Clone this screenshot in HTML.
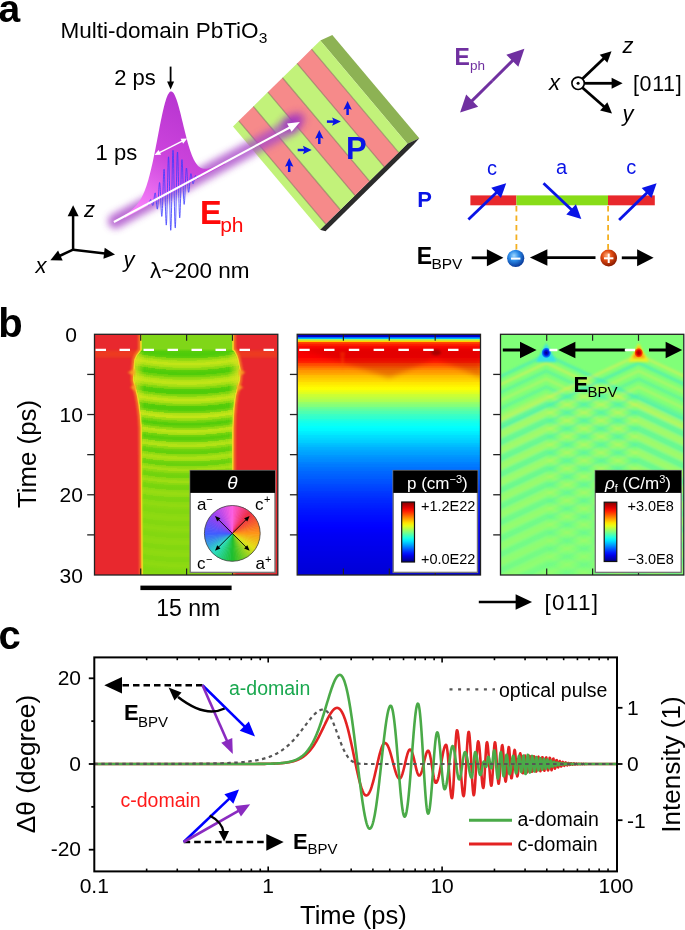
<!DOCTYPE html>
<html><head><meta charset="utf-8"><style>
html,body{margin:0;padding:0;background:#fff;width:685px;height:930px;overflow:hidden}
svg{display:block;will-change:transform}
text{font-family:"Liberation Sans",sans-serif}
</style></head><body>
<svg width="685" height="930" viewBox="0 0 685 930">

<text x="-1.6" y="21.6" font-size="39" fill="#000" font-weight="bold">a</text>
<text x="60.6" y="37.8" font-size="22.5" fill="#000">Multi-domain PbTiO</text>
<text x="258.8" y="42.8" font-size="15.5" fill="#000">3</text>
<text x="114.2" y="85" font-size="22" fill="#000">2 ps</text>
<text x="95.6" y="160" font-size="22" fill="#000">1 ps</text>
<line x1="170.6" y1="66.6" x2="170.6" y2="82.6" stroke="#000" stroke-width="1.8"/>
<polygon points="170.6,89.6 167.1,81.6 174.1,81.6" fill="#000"/>
<defs>
<filter id="glow" x="-30%" y="-60%" width="160%" height="220%"><feGaussianBlur stdDeviation="3.6"/></filter>
<filter id="glow2" x="-60%" y="-60%" width="220%" height="220%"><feGaussianBlur stdDeviation="4.5"/></filter>
<linearGradient id="sailg" x1="140" y1="205" x2="200" y2="100" gradientUnits="userSpaceOnUse"><stop offset="0" stop-color="#f47cf8"/><stop offset="0.45" stop-color="#cc44dc"/><stop offset="1" stop-color="#b533cf"/></linearGradient>
<linearGradient id="crysh" x1="0" y1="0" x2="1" y2="0"><stop offset="0" stop-color="#000" stop-opacity="0.18"/><stop offset="0.12" stop-color="#000" stop-opacity="0"/><stop offset="0.88" stop-color="#000" stop-opacity="0"/><stop offset="1" stop-color="#000" stop-opacity="0.12"/></linearGradient>
</defs>
<polygon points="320.3,40.5 332.3,35 419.3,138.3 407.3,143.8" fill="#8db254"/>
<polygon points="320,229.8 407.3,143.8 419.3,138.3 413.4,144.65 325.5,231.3" fill="#2b2b2b"/>
<polygon points="233,126.5 238.76,120.82 325.76,224.12 320,229.8" fill="#c2f27a"/>
<polygon points="238.76,120.82 253.34,106.46 340.34,209.76 325.76,224.12" fill="#f68a8a"/>
<polygon points="253.34,106.46 267.92,92.1 354.92,195.4 340.34,209.76" fill="#c2f27a"/>
<polygon points="267.92,92.1 282.5,77.74 369.5,181.04 354.92,195.4" fill="#f68a8a"/>
<polygon points="282.5,77.74 297.08,63.38 384.08,166.68 369.5,181.04" fill="#c2f27a"/>
<polygon points="297.08,63.38 311.57,49.1 398.57,152.4 384.08,166.68" fill="#f68a8a"/>
<polygon points="311.57,49.1 320.3,40.5 407.3,143.8 398.57,152.4" fill="#c2f27a"/>
<line x1="238.76" y1="120.82" x2="325.76" y2="224.12" stroke="#7a6a50" stroke-opacity="0.55" stroke-width="1.2"/>
<line x1="253.34" y1="106.46" x2="340.34" y2="209.76" stroke="#7a6a50" stroke-opacity="0.55" stroke-width="1.2"/>
<line x1="267.92" y1="92.1" x2="354.92" y2="195.4" stroke="#7a6a50" stroke-opacity="0.55" stroke-width="1.2"/>
<line x1="282.5" y1="77.74" x2="369.5" y2="181.04" stroke="#7a6a50" stroke-opacity="0.55" stroke-width="1.2"/>
<line x1="297.08" y1="63.38" x2="384.08" y2="166.68" stroke="#7a6a50" stroke-opacity="0.55" stroke-width="1.2"/>
<line x1="311.57" y1="49.1" x2="398.57" y2="152.4" stroke="#7a6a50" stroke-opacity="0.55" stroke-width="1.2"/>
<line x1="289.2" y1="172" x2="289.2" y2="164" stroke="#0a14e6" stroke-width="2.5"/>
<polygon points="289.2,158 285,166.8 289.2,165.2 293.4,166.8" fill="#0a14e6"/>
<line x1="297.7" y1="150" x2="305.7" y2="150" stroke="#0a14e6" stroke-width="2.5"/>
<polygon points="311.7,150 302.9,145.8 304.5,150 302.9,154.2" fill="#0a14e6"/>
<line x1="319.3" y1="144" x2="319.3" y2="136" stroke="#0a14e6" stroke-width="2.5"/>
<polygon points="319.3,130 315.1,138.8 319.3,137.2 323.5,138.8" fill="#0a14e6"/>
<line x1="326.9" y1="121.6" x2="334.9" y2="121.6" stroke="#0a14e6" stroke-width="2.5"/>
<polygon points="340.9,121.6 332.1,117.4 333.7,121.6 332.1,125.8" fill="#0a14e6"/>
<line x1="347.6" y1="115" x2="347.6" y2="107" stroke="#0a14e6" stroke-width="2.5"/>
<polygon points="347.6,101 343.4,109.8 347.6,108.2 351.8,109.8" fill="#0a14e6"/>
<text x="346" y="158.8" font-size="31" fill="#0a14e6" font-weight="bold">P</text>
<line x1="115.4" y1="221.19" x2="291.9" y2="126.3" stroke="#a846c8" stroke-width="15" stroke-linecap="round" opacity="0.78" filter="url(#glow)"/>
<ellipse cx="293" cy="122" rx="12" ry="7" transform="rotate(-28 293 122)" fill="#a030c0" opacity="0.95" filter="url(#glow2)"/>
<path d="M125,218.03 L125,214.81 L125.5,214.48 L126,214.15 L126.5,213.81 L127,213.46 L127.5,213.11 L128,212.76 L128.5,212.4 L129,212.03 L129.5,211.66 L130,211.27 L130.5,210.88 L131,210.48 L131.5,210.07 L132,209.65 L132.5,209.21 L133,208.77 L133.5,208.3 L134,207.83 L134.5,207.33 L135,206.82 L135.5,206.29 L136,205.73 L136.5,205.15 L137,204.55 L137.5,203.92 L138,203.26 L138.5,202.58 L139,201.85 L139.5,201.1 L140,200.31 L140.5,199.48 L141,198.6 L141.5,197.69 L142,196.73 L142.5,195.72 L143,194.66 L143.5,193.55 L144,192.38 L144.5,191.16 L145,189.88 L145.5,188.54 L146,187.14 L146.5,185.67 L147,184.14 L147.5,182.54 L148,180.88 L148.5,179.15 L149,177.36 L149.5,175.49 L150,173.56 L150.5,171.56 L151,169.5 L151.5,167.37 L152,165.18 L152.5,162.94 L153,160.63 L153.5,158.27 L154,155.87 L154.5,153.41 L155,150.92 L155.5,148.39 L156,145.83 L156.5,143.25 L157,140.65 L157.5,138.04 L158,135.42 L158.5,132.81 L159,130.2 L159.5,127.62 L160,125.07 L160.5,122.55 L161,120.07 L161.5,117.64 L162,115.28 L162.5,112.99 L163,110.77 L163.5,108.64 L164,106.61 L164.5,104.67 L165,102.85 L165.5,101.14 L166,99.55 L166.5,98.09 L167,96.77 L167.5,95.58 L168,94.54 L168.5,93.64 L169,92.9 L169.5,92.31 L170,91.87 L170.5,91.58 L171,91.45 L171.5,91.48 L172,91.65 L172.5,91.98 L173,92.46 L173.5,93.08 L174,93.84 L174.5,94.73 L175,95.75 L175.5,96.9 L176,98.17 L176.5,99.54 L177,101.02 L177.5,102.6 L178,104.26 L178.5,106 L179,107.81 L179.5,109.69 L180,111.62 L180.5,113.59 L181,115.6 L181.5,117.64 L182,119.7 L182.5,121.78 L183,123.86 L183.5,125.93 L184,128 L184.5,130.05 L185,132.08 L185.5,134.07 L186,136.04 L186.5,137.96 L187,139.84 L187.5,141.67 L188,143.45 L188.5,145.17 L189,146.83 L189.5,148.43 L190,149.97 L190.5,151.44 L191,152.85 L191.5,154.19 L192,155.46 L192.5,156.67 L193,157.81 L193.5,158.88 L194,159.89 L194.5,160.83 L195,161.7 L195.5,162.52 L196,163.27 L196.5,163.97 L197,164.61 L197.5,165.19 L198,165.73 L198.5,166.21 L199,166.64 L199.5,167.03 L200,167.37 L200.5,167.67 L201,167.93 L201.5,168.16 L202,168.35 L202.5,168.5 L203,168.63 L203.5,168.73 L204,168.8 L204.5,168.84 L205,168.86 L205.5,168.86 L206,168.84 L206.5,168.8 L207,168.75 L207.5,168.68 L208,168.59 L208.5,168.49 L209,168.37 L209.5,168.25 L210,168.11 L210.5,167.97 L211,167.82 L211.5,167.66 L212,167.49 L212.5,167.31 L213,167.13 L213.5,166.94 L214,166.75 L214.5,166.55 L215,166.35 L215.5,166.14 L216,165.94 L216.5,165.72 L217,165.51 L217.5,165.29 L218,165.07 L218.5,164.84 L219,164.62 L219.5,164.39 L220,164.16 L220.5,163.93 L221,163.69 L221.5,163.46 L222,163.22 L222.5,162.98 L223,162.74 L223.5,162.5 L224,162.26 L224.5,162.02 L225,161.77 L225,164.27 Z" fill="url(#sailg)"/>
<polyline points="140,208.02 140.12,207.94 140.24,207.86 140.36,207.78 140.48,207.69 140.6,207.6 140.72,207.52 140.84,207.43 140.96,207.34 141.08,207.25 141.2,207.17 141.32,207.09 141.44,207.01 141.56,206.94 141.68,206.88 141.8,206.81 141.92,206.76 142.04,206.71 142.16,206.67 142.28,206.63 142.4,206.6 142.52,206.58 142.64,206.55 142.76,206.54 142.88,206.52 143,206.51 143.12,206.49 143.24,206.47 143.36,206.45 143.48,206.43 143.6,206.39 143.72,206.35 143.84,206.3 143.96,206.23 144.08,206.16 144.2,206.07 144.32,205.97 144.44,205.85 144.56,205.73 144.68,205.59 144.8,205.44 144.92,205.29 145.04,205.13 145.16,204.96 145.28,204.8 145.4,204.64 145.52,204.48 145.64,204.33 145.76,204.2 145.88,204.08 146,203.98 146.12,203.89 146.24,203.84 146.36,203.8 146.48,203.79 146.6,203.81 146.72,203.85 146.84,203.91 146.96,204 147.08,204.1 147.2,204.21 147.32,204.33 147.44,204.46 147.56,204.58 147.68,204.7 147.8,204.81 147.92,204.89 148.04,204.95 148.16,204.98 148.28,204.97 148.4,204.92 148.52,204.83 148.64,204.69 148.76,204.51 148.88,204.28 149,204.01 149.12,203.7 149.24,203.35 149.36,202.98 149.48,202.58 149.6,202.17 149.72,201.76 149.84,201.36 149.96,200.98 150.08,200.62 150.2,200.31 150.32,200.04 150.44,199.84 150.56,199.7 150.68,199.63 150.8,199.64 150.92,199.73 151.04,199.9 151.16,200.15 151.28,200.47 151.4,200.86 151.52,201.3 151.64,201.78 151.76,202.29 151.88,202.82 152,203.34 152.12,203.85 152.24,204.31 152.36,204.71 152.48,205.05 152.6,205.29 152.72,205.42 152.84,205.44 152.96,205.33 153.08,205.1 153.2,204.73 153.32,204.23 153.44,203.61 153.56,202.87 153.68,202.03 153.8,201.11 153.92,200.14 154.04,199.12 154.16,198.1 154.28,197.09 154.4,196.13 154.52,195.25 154.64,194.47 154.76,193.82 154.88,193.33 155,193.01 155.12,192.88 155.24,192.95 155.36,193.23 155.48,193.72 155.6,194.4 155.72,195.27 155.84,196.31 155.96,197.5 156.08,198.79 156.2,200.16 156.32,201.57 156.44,202.98 156.56,204.33 156.68,205.6 156.8,206.73 156.92,207.68 157.04,208.42 157.16,208.91 157.28,209.13 157.4,209.06 157.52,208.68 157.64,208 157.76,207.01 157.88,205.73 158,204.19 158.12,202.42 158.24,200.46 158.36,198.36 158.48,196.17 158.6,193.95 158.72,191.77 158.84,189.69 158.96,187.77 159.08,186.07 159.2,184.64 159.32,183.54 159.44,182.82 159.56,182.49 159.68,182.59 159.8,183.12 159.92,184.09 160.04,185.47 160.16,187.24 160.28,189.36 160.4,191.78 160.52,194.43 160.64,197.24 160.76,200.13 160.88,203.03 161,205.83 161.12,208.47 161.24,210.85 161.36,212.89 161.48,214.52 161.6,215.69 161.72,216.33 161.84,216.42 161.96,215.93 162.08,214.86 162.2,213.22 162.32,211.04 162.44,208.37 162.56,205.27 162.68,201.81 162.8,198.09 162.92,194.2 163.04,190.25 163.16,186.35 163.28,182.61 163.4,179.15 163.52,176.07 163.64,173.47 163.76,171.42 163.88,170.01 164,169.29 164.12,169.29 164.24,170.02 164.36,171.49 164.48,173.66 164.6,176.49 164.72,179.9 164.84,183.81 164.96,188.12 165.08,192.7 165.2,197.43 165.32,202.17 165.44,206.78 165.56,211.13 165.68,215.09 165.8,218.52 165.92,221.33 166.04,223.41 166.16,224.69 166.28,225.12 166.4,224.66 166.52,223.32 166.64,221.12 166.76,218.09 166.88,214.32 167,209.9 167.12,204.95 167.24,199.58 167.36,193.96 167.48,188.24 167.6,182.58 167.72,177.13 167.84,172.07 167.96,167.53 168.08,163.65 168.2,160.56 168.32,158.34 168.44,157.07 168.56,156.8 168.68,157.54 168.8,159.28 168.92,161.98 169.04,165.57 169.16,169.97 169.28,175.03 169.4,180.64 169.52,186.63 169.64,192.82 169.76,199.05 169.88,205.13 170,210.89 170.12,216.15 170.24,220.76 170.36,224.59 170.48,227.51 170.6,229.44 170.72,230.31 170.84,230.08 170.96,228.76 171.08,226.38 171.2,222.99 171.32,218.69 171.44,213.59 171.56,207.84 171.68,201.59 171.8,195.02 171.92,188.31 172.04,181.65 172.16,175.24 172.28,169.24 172.4,163.84 172.52,159.18 172.64,155.39 172.76,152.59 172.88,150.85 173,150.23 173.12,150.72 173.24,152.33 173.36,155 173.48,158.66 173.6,163.19 173.72,168.47 173.84,174.33 173.96,180.62 174.08,187.15 174.2,193.73 174.32,200.17 174.44,206.29 174.56,211.92 174.68,216.88 174.8,221.05 174.92,224.31 175.04,226.57 175.16,227.76 175.28,227.85 175.4,226.86 175.52,224.8 175.64,221.75 175.76,217.8 175.88,213.05 176,207.66 176.12,201.77 176.24,195.56 176.36,189.21 176.48,182.88 176.6,176.77 176.72,171.03 176.84,165.84 176.96,161.32 177.08,157.59 177.2,154.76 177.32,152.89 177.44,152.02 177.56,152.17 177.68,153.31 177.8,155.4 177.92,158.36 178.04,162.11 178.16,166.52 178.28,171.46 178.4,176.77 178.52,182.31 178.64,187.9 178.76,193.39 178.88,198.62 179,203.45 179.12,207.74 179.24,211.38 179.36,214.28 179.48,216.36 179.6,217.57 179.72,217.89 179.84,217.34 179.96,215.93 180.08,213.72 180.2,210.78 180.32,207.22 180.44,203.13 180.56,198.65 180.68,193.91 180.8,189.04 180.92,184.18 181.04,179.47 181.16,175.04 181.28,171 181.4,167.46 181.52,164.5 181.64,162.2 181.76,160.6 181.88,159.74 182,159.61 182.12,160.21 182.24,161.49 182.36,163.4 182.48,165.88 182.6,168.83 182.72,172.16 182.84,175.77 182.96,179.54 183.08,183.36 183.2,187.12 183.32,190.71 183.44,194.04 183.56,197.01 183.68,199.56 183.8,201.61 183.92,203.12 184.04,204.06 184.16,204.42 184.28,204.2 184.4,203.43 184.52,202.14 184.64,200.37 184.76,198.2 184.88,195.69 185,192.93 185.12,189.99 185.24,186.97 185.36,183.95 185.48,181.01 185.6,178.23 185.72,175.68 185.84,173.44 185.96,171.54 186.08,170.02 186.2,168.93 186.32,168.27 186.44,168.04 186.56,168.24 186.68,168.83 186.8,169.8 186.92,171.1 187.04,172.67 187.16,174.46 187.28,176.42 187.4,178.47 187.52,180.56 187.64,182.62 187.76,184.59 187.88,186.42 188,188.06 188.12,189.47 188.24,190.62 188.36,191.48 188.48,192.04 188.6,192.29 188.72,192.23 188.84,191.88 188.96,191.26 189.08,190.39 189.2,189.31 189.32,188.05 189.44,186.66 189.56,185.17 189.68,183.64 189.8,182.1 189.92,180.6 190.04,179.17 190.16,177.86 190.28,176.69 190.4,175.69 190.52,174.88 190.64,174.26 190.76,173.85 190.88,173.65 191,173.65 191.12,173.84 191.24,174.21 191.36,174.73 191.48,175.38 191.6,176.13 191.72,176.96 191.84,177.84 191.96,178.73 192.08,179.62 192.2,180.47 192.32,181.26 192.44,181.97 192.56,182.57 192.68,183.07 192.8,183.44 192.92,183.68 193.04,183.79 193.16,183.76 193.28,183.61 193.4,183.35 193.52,182.98 193.64,182.52 193.76,181.99 193.88,181.39 194,180.76 194.12,180.11 194.24,179.45 194.36,178.81 194.48,178.2 194.6,177.63 194.72,177.12 194.84,176.67 194.96,176.29 195.08,175.99 195.2,175.77 195.32,175.63 195.44,175.57 195.56,175.58 195.68,175.65 195.8,175.79 195.92,175.98 196.04,176.2 196.16,176.46 196.28,176.73 196.4,177.01 196.52,177.29 196.64,177.56 196.76,177.8 196.88,178.02 197,178.2 197.12,178.34 197.24,178.44 197.36,178.5 197.48,178.5 197.6,178.47 197.72,178.39 197.84,178.27 197.96,178.11 198.08,177.92 198.2,177.71 198.32,177.48 198.44,177.23 198.56,176.98 198.68,176.72 198.8,176.47 198.92,176.22 199.04,176 199.16,175.78 199.28,175.59 199.4,175.42 199.52,175.28 199.64,175.16 199.76,175.06 199.88,174.99 200,174.94 200.12,174.92 200.24,174.91 200.36,174.91 200.48,174.93 200.6,174.96 200.72,174.99 200.84,175.03 200.96,175.06 201.08,175.09 201.2,175.12 201.32,175.14 201.44,175.15 201.56,175.14 201.68,175.13 201.8,175.1 201.92,175.06 202.04,175.01 202.16,174.94 202.28,174.87 202.4,174.78 202.52,174.68 202.64,174.58 202.76,174.47 202.88,174.36 203,174.25 203.12,174.13 203.24,174.02 203.36,173.91 203.48,173.8 203.6,173.7 203.72,173.6 203.84,173.51 203.96,173.42 204.08,173.34 204.2,173.27 204.32,173.2 204.44,173.14 204.56,173.08 204.68,173.03 204.8,172.98 204.92,172.93 205.04,172.89 205.16,172.85 205.28,172.81 205.4,172.76 205.52,172.72 205.64,172.68 205.76,172.64 205.88,172.59" fill="none" stroke="#3c3cff" stroke-width="0.9" opacity="0.9"/>
<line x1="113.9" y1="222" x2="290.21" y2="127.21" stroke="#ffffff" stroke-width="2.1"/>
<polygon points="299.9,122 291.58,131.87 287.08,123.5" fill="#ffffff"/>
<line x1="170.9" y1="146.8" x2="182.74" y2="140.77" stroke="#ffffff" stroke-width="1.4"/>
<polygon points="187.2,138.5 183.1,143.67 180.61,138.77" fill="#ffffff"/>
<line x1="170.9" y1="146.8" x2="158.96" y2="152.84" stroke="#ffffff" stroke-width="1.4"/>
<polygon points="154.5,155.1 158.61,149.94 161.1,154.84" fill="#ffffff"/>
<text x="200" y="224.4" font-size="32.5" fill="#ff0a0a" font-weight="bold">E</text>
<text x="220.2" y="231.6" font-size="21" fill="#ff0a0a">ph</text>
<line x1="73.1" y1="250" x2="73.1" y2="215.2" stroke="#000" stroke-width="2.5"/>
<polygon points="73.1,205.2 78.6,216.2 67.6,216.2" fill="#000"/>
<line x1="73.1" y1="249.7" x2="59.48" y2="256" stroke="#000" stroke-width="2.5"/>
<polygon points="50.4,260.2 58.07,250.59 62.69,260.57" fill="#000"/>
<line x1="73.1" y1="249.7" x2="105.07" y2="253.44" stroke="#000" stroke-width="2.5"/>
<polygon points="115,254.6 103.44,258.79 104.71,247.86" fill="#000"/>
<text x="84" y="216.8" font-size="22" fill="#000" font-style="italic">z</text>
<text x="35.5" y="273" font-size="22" fill="#000" font-style="italic">x</text>
<text x="123.5" y="267.4" font-size="22" fill="#000" font-style="italic">y</text>
<text x="150" y="277.7" font-size="22.5" fill="#000">λ~200 nm</text>
<text x="454.5" y="64.8" font-size="23" fill="#7030a0" font-weight="bold">E</text>
<text x="470" y="69.9" font-size="13.5" fill="#7030a0">ph</text>
<line x1="492.3" y1="80.7" x2="513.05" y2="60.08" stroke="#7030a0" stroke-width="3"/>
<polygon points="524.4,48.8 518.33,66.81 506.35,54.75" fill="#7030a0"/>
<line x1="492.3" y1="80.7" x2="471.47" y2="101.34" stroke="#7030a0" stroke-width="3"/>
<polygon points="460.1,112.6 466.19,94.6 478.16,106.67" fill="#7030a0"/>
<circle cx="578.1" cy="83.3" r="6.2" fill="#fff" stroke="#000" stroke-width="1.6"/>
<circle cx="578.1" cy="83.3" r="1.5" fill="#000"/>
<line x1="582.5" y1="78.8" x2="604.26" y2="58.09" stroke="#000" stroke-width="2.8"/>
<polygon points="611.5,51.2 607.32,62.77 599.74,54.8" fill="#000"/>
<line x1="584.3" y1="83.3" x2="612.6" y2="83.3" stroke="#000" stroke-width="2.8"/>
<polygon points="622.6,83.3 611.6,88.8 611.6,77.8" fill="#000"/>
<line x1="582.5" y1="87.8" x2="604.47" y2="107.02" stroke="#000" stroke-width="2.8"/>
<polygon points="612,113.6 600.1,110.5 607.34,102.22" fill="#000"/>
<text x="622.5" y="52.8" font-size="22" fill="#000" font-style="italic">z</text>
<text x="549" y="89.6" font-size="22" fill="#000" font-style="italic">x</text>
<text x="622.5" y="121.2" font-size="22" fill="#000" font-style="italic">y</text>
<text x="633" y="90.8" font-size="21.5" fill="#000" letter-spacing="0.6">[011]</text>
<text x="417.2" y="207.2" font-size="22" fill="#0a14e6" font-weight="bold">P</text>
<rect x="470.4" y="195.4" width="46" height="9.9" fill="#e8282c"/>
<rect x="516.4" y="195.4" width="91.6" height="9.9" fill="#88dc18"/>
<rect x="608" y="195.4" width="46.8" height="9.9" fill="#e8282c"/>
<text x="487" y="174.8" font-size="20" fill="#0a14e6">c</text>
<text x="556" y="174.2" font-size="20" fill="#0a14e6">a</text>
<text x="626.2" y="174.2" font-size="20" fill="#0a14e6">c</text>
<line x1="468.4" y1="219.4" x2="496.81" y2="192.19" stroke="#0a14e6" stroke-width="2.8"/>
<polygon points="506.2,183.2 500.93,197.94 491.25,187.83" fill="#0a14e6"/>
<line x1="543.5" y1="183.3" x2="571.85" y2="210.07" stroke="#0a14e6" stroke-width="2.8"/>
<polygon points="581.3,219 566.32,214.48 575.93,204.3" fill="#0a14e6"/>
<line x1="619.1" y1="220" x2="647.31" y2="192.39" stroke="#0a14e6" stroke-width="2.8"/>
<polygon points="656.6,183.3 651.49,198.1 641.7,188.09" fill="#0a14e6"/>
<line x1="516.4" y1="206" x2="516.4" y2="250" stroke="#f4b020" stroke-width="1.8" stroke-dasharray="5.5 4"/>
<line x1="608.1" y1="206" x2="608.1" y2="250" stroke="#f4b020" stroke-width="1.8" stroke-dasharray="5.5 4"/>
<text x="416.8" y="263.8" font-size="23" fill="#000" font-weight="bold">E</text>
<text x="431.4" y="269.2" font-size="15.5" fill="#000">BPV</text>
<line x1="471.7" y1="257.8" x2="487.9" y2="257.8" stroke="#000" stroke-width="2.8"/>
<polygon points="503.4,257.8 486.9,266.3 486.9,249.3" fill="#000"/>
<line x1="595.5" y1="257.6" x2="546.4" y2="257.6" stroke="#000" stroke-width="2.8"/>
<polygon points="529.9,257.6 547.4,249.35 547.4,265.85" fill="#000"/>
<line x1="621.8" y1="257.8" x2="638.1" y2="257.8" stroke="#000" stroke-width="2.8"/>
<polygon points="653.6,257.8 637.1,266.3 637.1,249.3" fill="#000"/>
<defs><radialGradient id="bball" cx="0.4" cy="0.35" r="0.65"><stop offset="0" stop-color="#9fd8ff"/><stop offset="0.45" stop-color="#2a8ae8"/><stop offset="1" stop-color="#0a3a9a"/></radialGradient>
<radialGradient id="rball" cx="0.4" cy="0.35" r="0.65"><stop offset="0" stop-color="#ffb080"/><stop offset="0.45" stop-color="#e04a10"/><stop offset="1" stop-color="#8a1a00"/></radialGradient></defs>
<circle cx="515.7" cy="258.3" r="8.6" fill="url(#bball)"/>
<line x1="511" y1="258.6" x2="520.4" y2="258.6" stroke="#fff" stroke-width="2"/>
<circle cx="608.7" cy="258" r="8.4" fill="url(#rball)"/>
<line x1="604" y1="258.3" x2="613.4" y2="258.3" stroke="#fff" stroke-width="2"/>
<line x1="608.7" y1="253.6" x2="608.7" y2="263" stroke="#fff" stroke-width="2"/>
<text x="-1.8" y="336.5" font-size="40" fill="#000" font-weight="bold">b</text>
<defs>
<filter id="bl1" x="-20%" y="-20%" width="140%" height="140%"><feGaussianBlur stdDeviation="1.2"/></filter>
<filter id="bl2" x="-50%" y="-50%" width="200%" height="200%"><feGaussianBlur stdDeviation="2.5"/></filter>
<filter id="bl05"><feGaussianBlur stdDeviation="0.7"/></filter><filter id="bl09"><feGaussianBlur stdDeviation="1.0"/></filter>
<linearGradient id="gstr" x1="0" y1="334.3" x2="0" y2="574.3" gradientUnits="userSpaceOnUse"><stop offset="0" stop-color="#80d618"/><stop offset="0" stop-color="#80d618"/><stop offset="0.01" stop-color="#80d618"/><stop offset="0.01" stop-color="#80d618"/><stop offset="0.02" stop-color="#80d618"/><stop offset="0.02" stop-color="#80d618"/><stop offset="0.03" stop-color="#80d618"/><stop offset="0.03" stop-color="#80d618"/><stop offset="0.03" stop-color="#80d618"/><stop offset="0.04" stop-color="#80d618"/><stop offset="0.04" stop-color="#80d618"/><stop offset="0.05" stop-color="#80d618"/><stop offset="0.05" stop-color="#80d618"/><stop offset="0.05" stop-color="#80d618"/><stop offset="0.06" stop-color="#80d618"/><stop offset="0.06" stop-color="#80d618"/><stop offset="0.07" stop-color="#5dcf0b"/><stop offset="0.07" stop-color="#5ace0b"/><stop offset="0.07" stop-color="#55cd0a"/><stop offset="0.08" stop-color="#51cc0a"/><stop offset="0.08" stop-color="#4ecc0a"/><stop offset="0.09" stop-color="#4ecc0a"/><stop offset="0.09" stop-color="#53cd0a"/><stop offset="0.1" stop-color="#5fcf0c"/><stop offset="0.1" stop-color="#6fd30d"/><stop offset="0.1" stop-color="#82d710"/><stop offset="0.11" stop-color="#96db12"/><stop offset="0.11" stop-color="#a8e014"/><stop offset="0.12" stop-color="#b7e316"/><stop offset="0.12" stop-color="#c0e517"/><stop offset="0.12" stop-color="#c3e517"/><stop offset="0.13" stop-color="#c0e517"/><stop offset="0.13" stop-color="#b6e216"/><stop offset="0.14" stop-color="#a7df14"/><stop offset="0.14" stop-color="#94db12"/><stop offset="0.15" stop-color="#80d70f"/><stop offset="0.15" stop-color="#6dd20d"/><stop offset="0.15" stop-color="#5dcf0b"/><stop offset="0.16" stop-color="#52cd0a"/><stop offset="0.16" stop-color="#4ecc0a"/><stop offset="0.17" stop-color="#50cc0a"/><stop offset="0.17" stop-color="#58ce0b"/><stop offset="0.17" stop-color="#66d10c"/><stop offset="0.18" stop-color="#78d50f"/><stop offset="0.18" stop-color="#8cd911"/><stop offset="0.19" stop-color="#9fde13"/><stop offset="0.19" stop-color="#b0e115"/><stop offset="0.2" stop-color="#bce417"/><stop offset="0.2" stop-color="#c3e517"/><stop offset="0.2" stop-color="#c2e517"/><stop offset="0.21" stop-color="#bce417"/><stop offset="0.21" stop-color="#afe115"/><stop offset="0.22" stop-color="#9edd13"/><stop offset="0.22" stop-color="#8ad911"/><stop offset="0.23" stop-color="#76d40e"/><stop offset="0.23" stop-color="#65d10c"/><stop offset="0.23" stop-color="#57ce0b"/><stop offset="0.24" stop-color="#4fcc0a"/><stop offset="0.24" stop-color="#4ecc0a"/><stop offset="0.25" stop-color="#54cd0a"/><stop offset="0.25" stop-color="#62d00c"/><stop offset="0.25" stop-color="#75d40e"/><stop offset="0.26" stop-color="#8bd911"/><stop offset="0.26" stop-color="#a0de13"/><stop offset="0.27" stop-color="#b2e215"/><stop offset="0.27" stop-color="#bfe417"/><stop offset="0.28" stop-color="#c3e517"/><stop offset="0.28" stop-color="#c0e517"/><stop offset="0.28" stop-color="#b5e216"/><stop offset="0.29" stop-color="#a4df14"/><stop offset="0.29" stop-color="#8fda11"/><stop offset="0.3" stop-color="#79d50f"/><stop offset="0.3" stop-color="#65d10c"/><stop offset="0.3" stop-color="#57cd0b"/><stop offset="0.31" stop-color="#4fcc0a"/><stop offset="0.31" stop-color="#4fcc0a"/><stop offset="0.32" stop-color="#58ce0b"/><stop offset="0.32" stop-color="#68d10d"/><stop offset="0.33" stop-color="#7dd60f"/><stop offset="0.33" stop-color="#95db12"/><stop offset="0.33" stop-color="#aae014"/><stop offset="0.34" stop-color="#bae316"/><stop offset="0.34" stop-color="#c3e517"/><stop offset="0.35" stop-color="#c2e517"/><stop offset="0.35" stop-color="#b9e316"/><stop offset="0.35" stop-color="#a8df14"/><stop offset="0.36" stop-color="#92db12"/><stop offset="0.36" stop-color="#7bd60f"/><stop offset="0.37" stop-color="#67d10d"/><stop offset="0.37" stop-color="#58ce0b"/><stop offset="0.38" stop-color="#51cc0a"/><stop offset="0.38" stop-color="#53cd0a"/><stop offset="0.38" stop-color="#5ecf0b"/><stop offset="0.39" stop-color="#72d30e"/><stop offset="0.39" stop-color="#89d911"/><stop offset="0.4" stop-color="#a0de13"/><stop offset="0.4" stop-color="#b2e215"/><stop offset="0.4" stop-color="#bbe417"/><stop offset="0.41" stop-color="#bbe417"/><stop offset="0.41" stop-color="#b2e215"/><stop offset="0.42" stop-color="#a0de13"/><stop offset="0.42" stop-color="#8bd911"/><stop offset="0.42" stop-color="#76d40e"/><stop offset="0.43" stop-color="#65d10c"/><stop offset="0.43" stop-color="#5bce0b"/><stop offset="0.44" stop-color="#59ce0b"/><stop offset="0.44" stop-color="#62d00c"/><stop offset="0.45" stop-color="#73d40e"/><stop offset="0.45" stop-color="#87d810"/><stop offset="0.45" stop-color="#9cdd13"/><stop offset="0.46" stop-color="#ace015"/><stop offset="0.46" stop-color="#b4e216"/><stop offset="0.47" stop-color="#b2e215"/><stop offset="0.47" stop-color="#a8df14"/><stop offset="0.47" stop-color="#97dc12"/><stop offset="0.48" stop-color="#84d710"/><stop offset="0.48" stop-color="#72d30e"/><stop offset="0.49" stop-color="#65d10c"/><stop offset="0.49" stop-color="#61d00c"/><stop offset="0.5" stop-color="#66d10c"/><stop offset="0.5" stop-color="#74d40e"/><stop offset="0.5" stop-color="#87d810"/><stop offset="0.51" stop-color="#9bdd13"/><stop offset="0.51" stop-color="#a8e014"/><stop offset="0.52" stop-color="#ade115"/><stop offset="0.52" stop-color="#a7df14"/><stop offset="0.53" stop-color="#9adc13"/><stop offset="0.53" stop-color="#88d810"/><stop offset="0.53" stop-color="#76d50e"/><stop offset="0.54" stop-color="#6bd20d"/><stop offset="0.54" stop-color="#68d10d"/><stop offset="0.55" stop-color="#6dd30d"/><stop offset="0.55" stop-color="#7ad50f"/><stop offset="0.55" stop-color="#8ad911"/><stop offset="0.56" stop-color="#99dc12"/><stop offset="0.56" stop-color="#a3de14"/><stop offset="0.57" stop-color="#a6df14"/><stop offset="0.57" stop-color="#a1de13"/><stop offset="0.57" stop-color="#95db12"/><stop offset="0.58" stop-color="#87d810"/><stop offset="0.58" stop-color="#7ad50f"/><stop offset="0.59" stop-color="#71d30e"/><stop offset="0.59" stop-color="#6fd30d"/><stop offset="0.6" stop-color="#74d40e"/><stop offset="0.6" stop-color="#7ed60f"/><stop offset="0.6" stop-color="#8ad911"/><stop offset="0.61" stop-color="#96db12"/><stop offset="0.61" stop-color="#9ddd13"/><stop offset="0.62" stop-color="#9fdd13"/><stop offset="0.62" stop-color="#9adc13"/><stop offset="0.62" stop-color="#91da11"/><stop offset="0.63" stop-color="#86d810"/><stop offset="0.63" stop-color="#7cd60f"/><stop offset="0.64" stop-color="#77d50e"/><stop offset="0.64" stop-color="#76d40e"/><stop offset="0.65" stop-color="#7ad50f"/><stop offset="0.65" stop-color="#82d710"/><stop offset="0.65" stop-color="#8bd911"/><stop offset="0.66" stop-color="#93db12"/><stop offset="0.66" stop-color="#97dc12"/><stop offset="0.67" stop-color="#97dc12"/><stop offset="0.67" stop-color="#94db12"/><stop offset="0.68" stop-color="#8eda11"/><stop offset="0.68" stop-color="#86d810"/><stop offset="0.68" stop-color="#80d710"/><stop offset="0.69" stop-color="#7dd60f"/><stop offset="0.69" stop-color="#7dd60f"/><stop offset="0.7" stop-color="#80d70f"/><stop offset="0.7" stop-color="#85d810"/><stop offset="0.7" stop-color="#8ad911"/><stop offset="0.71" stop-color="#8eda11"/><stop offset="0.71" stop-color="#91da11"/><stop offset="0.72" stop-color="#90da11"/><stop offset="0.72" stop-color="#8eda11"/><stop offset="0.72" stop-color="#8bd911"/><stop offset="0.73" stop-color="#88d810"/><stop offset="0.73" stop-color="#85d810"/><stop offset="0.74" stop-color="#83d710"/><stop offset="0.74" stop-color="#83d710"/><stop offset="0.75" stop-color="#84d710"/><stop offset="0.75" stop-color="#86d810"/><stop offset="0.75" stop-color="#89d911"/><stop offset="0.76" stop-color="#8cd911"/><stop offset="0.76" stop-color="#8eda11"/><stop offset="0.77" stop-color="#8eda11"/><stop offset="0.77" stop-color="#8dda11"/><stop offset="0.78" stop-color="#8bd911"/><stop offset="0.78" stop-color="#88d810"/><stop offset="0.78" stop-color="#85d810"/><stop offset="0.79" stop-color="#83d710"/><stop offset="0.79" stop-color="#83d710"/><stop offset="0.8" stop-color="#84d710"/><stop offset="0.8" stop-color="#86d810"/><stop offset="0.8" stop-color="#89d911"/><stop offset="0.81" stop-color="#8cd911"/><stop offset="0.81" stop-color="#8eda11"/><stop offset="0.82" stop-color="#8eda11"/><stop offset="0.82" stop-color="#8dda11"/><stop offset="0.82" stop-color="#8bd911"/><stop offset="0.83" stop-color="#88d810"/><stop offset="0.83" stop-color="#85d810"/><stop offset="0.84" stop-color="#83d710"/><stop offset="0.84" stop-color="#83d710"/><stop offset="0.85" stop-color="#84d710"/><stop offset="0.85" stop-color="#86d810"/><stop offset="0.85" stop-color="#89d911"/><stop offset="0.86" stop-color="#8cd911"/><stop offset="0.86" stop-color="#8eda11"/><stop offset="0.87" stop-color="#8eda11"/><stop offset="0.87" stop-color="#8dda11"/><stop offset="0.88" stop-color="#8bd911"/><stop offset="0.88" stop-color="#88d810"/><stop offset="0.88" stop-color="#85d810"/><stop offset="0.89" stop-color="#83d710"/><stop offset="0.89" stop-color="#83d710"/><stop offset="0.9" stop-color="#84d710"/><stop offset="0.9" stop-color="#86d810"/><stop offset="0.9" stop-color="#89d911"/><stop offset="0.91" stop-color="#8cd911"/><stop offset="0.91" stop-color="#8eda11"/><stop offset="0.92" stop-color="#8eda11"/><stop offset="0.92" stop-color="#8dda11"/><stop offset="0.93" stop-color="#8bd911"/><stop offset="0.93" stop-color="#88d810"/><stop offset="0.93" stop-color="#85d810"/><stop offset="0.94" stop-color="#83d710"/><stop offset="0.94" stop-color="#83d710"/><stop offset="0.95" stop-color="#84d710"/><stop offset="0.95" stop-color="#86d810"/><stop offset="0.95" stop-color="#89d911"/><stop offset="0.96" stop-color="#8cd911"/><stop offset="0.96" stop-color="#8eda11"/><stop offset="0.97" stop-color="#8eda11"/><stop offset="0.97" stop-color="#8dda11"/><stop offset="0.97" stop-color="#8bd911"/><stop offset="0.98" stop-color="#88d810"/><stop offset="0.98" stop-color="#85d810"/><stop offset="0.99" stop-color="#83d710"/><stop offset="0.99" stop-color="#83d710"/><stop offset="1" stop-color="#84d710"/><stop offset="1" stop-color="#86d810"/></linearGradient>
<linearGradient id="gjet" x1="0" y1="334.3" x2="0" y2="575" gradientUnits="userSpaceOnUse"><stop offset="0" stop-color="#0000b3"/><stop offset="0" stop-color="#0000bd"/><stop offset="0.01" stop-color="#0000c8"/><stop offset="0.01" stop-color="#0037ff"/><stop offset="0.02" stop-color="#00e3ff"/><stop offset="0.02" stop-color="#93ff6c"/><stop offset="0.03" stop-color="#ffd200"/><stop offset="0.03" stop-color="#ff6d00"/><stop offset="0.03" stop-color="#ff5100"/><stop offset="0.04" stop-color="#ff3600"/><stop offset="0.04" stop-color="#ff2100"/><stop offset="0.05" stop-color="#ff1a00"/><stop offset="0.05" stop-color="#ff1200"/><stop offset="0.05" stop-color="#ff0a00"/><stop offset="0.06" stop-color="#ff0200"/><stop offset="0.06" stop-color="#fa0000"/><stop offset="0.07" stop-color="#f50000"/><stop offset="0.07" stop-color="#f60000"/><stop offset="0.07" stop-color="#f70000"/><stop offset="0.08" stop-color="#f70000"/><stop offset="0.08" stop-color="#f80000"/><stop offset="0.09" stop-color="#f90000"/><stop offset="0.09" stop-color="#f90000"/><stop offset="0.1" stop-color="#fd0000"/><stop offset="0.1" stop-color="#ff0500"/><stop offset="0.1" stop-color="#ff0c00"/><stop offset="0.11" stop-color="#ff1300"/><stop offset="0.11" stop-color="#ff1a00"/><stop offset="0.12" stop-color="#ff2400"/><stop offset="0.12" stop-color="#ff3300"/><stop offset="0.12" stop-color="#ff4200"/><stop offset="0.13" stop-color="#ff5100"/><stop offset="0.13" stop-color="#ff6000"/><stop offset="0.14" stop-color="#ff6f00"/><stop offset="0.14" stop-color="#ff7e00"/><stop offset="0.15" stop-color="#ff8600"/><stop offset="0.15" stop-color="#ff8e00"/><stop offset="0.15" stop-color="#ff9500"/><stop offset="0.16" stop-color="#ff9d00"/><stop offset="0.16" stop-color="#ffa400"/><stop offset="0.17" stop-color="#ffac00"/><stop offset="0.17" stop-color="#ffb400"/><stop offset="0.17" stop-color="#ffbb00"/><stop offset="0.18" stop-color="#ffc300"/><stop offset="0.18" stop-color="#ffc900"/><stop offset="0.19" stop-color="#ffcf00"/><stop offset="0.19" stop-color="#ffd500"/><stop offset="0.2" stop-color="#ffda00"/><stop offset="0.2" stop-color="#ffe000"/><stop offset="0.2" stop-color="#ffe500"/><stop offset="0.21" stop-color="#ffeb00"/><stop offset="0.21" stop-color="#fff100"/><stop offset="0.22" stop-color="#fff600"/><stop offset="0.22" stop-color="#fffc00"/><stop offset="0.23" stop-color="#fcff03"/><stop offset="0.23" stop-color="#f5ff0a"/><stop offset="0.23" stop-color="#efff10"/><stop offset="0.24" stop-color="#e8ff17"/><stop offset="0.24" stop-color="#e1ff1e"/><stop offset="0.25" stop-color="#dbff24"/><stop offset="0.25" stop-color="#d4ff2b"/><stop offset="0.25" stop-color="#cdff32"/><stop offset="0.26" stop-color="#c7ff38"/><stop offset="0.26" stop-color="#c0ff3f"/><stop offset="0.27" stop-color="#b9ff46"/><stop offset="0.27" stop-color="#b3ff4c"/><stop offset="0.28" stop-color="#aaff55"/><stop offset="0.28" stop-color="#a2ff5d"/><stop offset="0.28" stop-color="#9aff65"/><stop offset="0.29" stop-color="#92ff6d"/><stop offset="0.29" stop-color="#8aff75"/><stop offset="0.3" stop-color="#81ff7e"/><stop offset="0.3" stop-color="#79ff86"/><stop offset="0.3" stop-color="#71ff8e"/><stop offset="0.31" stop-color="#69ff96"/><stop offset="0.31" stop-color="#61ff9e"/><stop offset="0.32" stop-color="#59ffa6"/><stop offset="0.32" stop-color="#50ffaf"/><stop offset="0.33" stop-color="#4affb5"/><stop offset="0.33" stop-color="#44ffbb"/><stop offset="0.33" stop-color="#3effc1"/><stop offset="0.34" stop-color="#39ffc6"/><stop offset="0.34" stop-color="#33ffcc"/><stop offset="0.35" stop-color="#2effd1"/><stop offset="0.35" stop-color="#28ffd7"/><stop offset="0.35" stop-color="#23ffdc"/><stop offset="0.36" stop-color="#1dffe2"/><stop offset="0.36" stop-color="#17ffe8"/><stop offset="0.37" stop-color="#12ffed"/><stop offset="0.37" stop-color="#0dfff2"/><stop offset="0.38" stop-color="#0afff5"/><stop offset="0.38" stop-color="#07fff8"/><stop offset="0.38" stop-color="#04fffb"/><stop offset="0.39" stop-color="#00ffff"/><stop offset="0.39" stop-color="#00fcff"/><stop offset="0.4" stop-color="#00f9ff"/><stop offset="0.4" stop-color="#00f6ff"/><stop offset="0.4" stop-color="#00f2ff"/><stop offset="0.41" stop-color="#00efff"/><stop offset="0.41" stop-color="#00ecff"/><stop offset="0.42" stop-color="#00e8ff"/><stop offset="0.42" stop-color="#00e4ff"/><stop offset="0.42" stop-color="#00e0ff"/><stop offset="0.43" stop-color="#00ddff"/><stop offset="0.43" stop-color="#00d9ff"/><stop offset="0.44" stop-color="#00d5ff"/><stop offset="0.44" stop-color="#00d1ff"/><stop offset="0.45" stop-color="#00cdff"/><stop offset="0.45" stop-color="#00c9ff"/><stop offset="0.45" stop-color="#00c5ff"/><stop offset="0.46" stop-color="#00c1ff"/><stop offset="0.46" stop-color="#00bdff"/><stop offset="0.47" stop-color="#00b9ff"/><stop offset="0.47" stop-color="#00b5ff"/><stop offset="0.47" stop-color="#00b2ff"/><stop offset="0.48" stop-color="#00aeff"/><stop offset="0.48" stop-color="#00aaff"/><stop offset="0.49" stop-color="#00a6ff"/><stop offset="0.49" stop-color="#00a3ff"/><stop offset="0.5" stop-color="#00a0ff"/><stop offset="0.5" stop-color="#009cff"/><stop offset="0.5" stop-color="#0099ff"/><stop offset="0.51" stop-color="#0096ff"/><stop offset="0.51" stop-color="#0092ff"/><stop offset="0.52" stop-color="#008fff"/><stop offset="0.52" stop-color="#008cff"/><stop offset="0.53" stop-color="#0089ff"/><stop offset="0.53" stop-color="#0085ff"/><stop offset="0.53" stop-color="#0082ff"/><stop offset="0.54" stop-color="#007fff"/><stop offset="0.54" stop-color="#007bff"/><stop offset="0.55" stop-color="#0079ff"/><stop offset="0.55" stop-color="#0076ff"/><stop offset="0.55" stop-color="#0074ff"/><stop offset="0.56" stop-color="#0071ff"/><stop offset="0.56" stop-color="#006fff"/><stop offset="0.57" stop-color="#006cff"/><stop offset="0.57" stop-color="#006aff"/><stop offset="0.57" stop-color="#0067ff"/><stop offset="0.58" stop-color="#0065ff"/><stop offset="0.58" stop-color="#0062ff"/><stop offset="0.59" stop-color="#0060ff"/><stop offset="0.59" stop-color="#005eff"/><stop offset="0.6" stop-color="#005bff"/><stop offset="0.6" stop-color="#0059ff"/><stop offset="0.6" stop-color="#0056ff"/><stop offset="0.61" stop-color="#0054ff"/><stop offset="0.61" stop-color="#0052ff"/><stop offset="0.62" stop-color="#004fff"/><stop offset="0.62" stop-color="#004dff"/><stop offset="0.62" stop-color="#004aff"/><stop offset="0.63" stop-color="#0048ff"/><stop offset="0.63" stop-color="#0046ff"/><stop offset="0.64" stop-color="#0043ff"/><stop offset="0.64" stop-color="#0041ff"/><stop offset="0.65" stop-color="#003fff"/><stop offset="0.65" stop-color="#003cff"/><stop offset="0.65" stop-color="#003aff"/><stop offset="0.66" stop-color="#0038ff"/><stop offset="0.66" stop-color="#0035ff"/><stop offset="0.67" stop-color="#0033ff"/><stop offset="0.67" stop-color="#0031ff"/><stop offset="0.68" stop-color="#002eff"/><stop offset="0.68" stop-color="#002dff"/><stop offset="0.68" stop-color="#002bff"/><stop offset="0.69" stop-color="#0029ff"/><stop offset="0.69" stop-color="#0027ff"/><stop offset="0.7" stop-color="#0026ff"/><stop offset="0.7" stop-color="#0024ff"/><stop offset="0.7" stop-color="#0022ff"/><stop offset="0.71" stop-color="#0021ff"/><stop offset="0.71" stop-color="#001fff"/><stop offset="0.72" stop-color="#001dff"/><stop offset="0.72" stop-color="#001cff"/><stop offset="0.72" stop-color="#001aff"/><stop offset="0.73" stop-color="#0018ff"/><stop offset="0.73" stop-color="#0016ff"/><stop offset="0.74" stop-color="#0015ff"/><stop offset="0.74" stop-color="#0013ff"/><stop offset="0.75" stop-color="#0011ff"/><stop offset="0.75" stop-color="#0010ff"/><stop offset="0.75" stop-color="#000eff"/><stop offset="0.76" stop-color="#000dff"/><stop offset="0.76" stop-color="#000cff"/><stop offset="0.77" stop-color="#000aff"/><stop offset="0.77" stop-color="#0009ff"/><stop offset="0.78" stop-color="#0008ff"/><stop offset="0.78" stop-color="#0007ff"/><stop offset="0.78" stop-color="#0005ff"/><stop offset="0.79" stop-color="#0004ff"/><stop offset="0.79" stop-color="#0003ff"/><stop offset="0.8" stop-color="#0001ff"/><stop offset="0.8" stop-color="#0000ff"/><stop offset="0.8" stop-color="#0000fe"/><stop offset="0.81" stop-color="#0000fd"/><stop offset="0.81" stop-color="#0000fb"/><stop offset="0.82" stop-color="#0000fa"/><stop offset="0.82" stop-color="#0000f9"/><stop offset="0.82" stop-color="#0000f8"/><stop offset="0.83" stop-color="#0000f6"/><stop offset="0.83" stop-color="#0000f5"/><stop offset="0.84" stop-color="#0000f4"/><stop offset="0.84" stop-color="#0000f3"/><stop offset="0.85" stop-color="#0000f2"/><stop offset="0.85" stop-color="#0000f2"/><stop offset="0.85" stop-color="#0000f1"/><stop offset="0.86" stop-color="#0000f0"/><stop offset="0.86" stop-color="#0000ef"/><stop offset="0.87" stop-color="#0000ee"/><stop offset="0.87" stop-color="#0000ee"/><stop offset="0.88" stop-color="#0000ed"/><stop offset="0.88" stop-color="#0000ec"/><stop offset="0.88" stop-color="#0000eb"/><stop offset="0.89" stop-color="#0000ea"/><stop offset="0.89" stop-color="#0000ea"/><stop offset="0.9" stop-color="#0000e9"/><stop offset="0.9" stop-color="#0000e8"/><stop offset="0.9" stop-color="#0000e7"/><stop offset="0.91" stop-color="#0000e6"/><stop offset="0.91" stop-color="#0000e6"/><stop offset="0.92" stop-color="#0000e5"/><stop offset="0.92" stop-color="#0000e4"/><stop offset="0.93" stop-color="#0000e3"/><stop offset="0.93" stop-color="#0000e3"/><stop offset="0.93" stop-color="#0000e2"/><stop offset="0.94" stop-color="#0000e1"/><stop offset="0.94" stop-color="#0000e0"/><stop offset="0.95" stop-color="#0000e0"/><stop offset="0.95" stop-color="#0000df"/><stop offset="0.95" stop-color="#0000de"/><stop offset="0.96" stop-color="#0000de"/><stop offset="0.96" stop-color="#0000dd"/><stop offset="0.97" stop-color="#0000dc"/><stop offset="0.97" stop-color="#0000db"/><stop offset="0.97" stop-color="#0000db"/><stop offset="0.98" stop-color="#0000da"/><stop offset="0.98" stop-color="#0000d9"/><stop offset="0.99" stop-color="#0000d8"/><stop offset="0.99" stop-color="#0000d8"/><stop offset="1" stop-color="#0000d7"/><stop offset="1" stop-color="#0000d6"/></linearGradient>
<linearGradient id="gcb" x1="0" y1="0" x2="0" y2="1"><stop offset="0" stop-color="#800000"/><stop offset="0.05" stop-color="#b30000"/><stop offset="0.1" stop-color="#e50000"/><stop offset="0.15" stop-color="#ff1a00"/><stop offset="0.2" stop-color="#ff4c00"/><stop offset="0.25" stop-color="#ff8000"/><stop offset="0.3" stop-color="#ffb300"/><stop offset="0.35" stop-color="#ffe500"/><stop offset="0.4" stop-color="#e5ff1a"/><stop offset="0.45" stop-color="#b3ff4c"/><stop offset="0.5" stop-color="#80ff80"/><stop offset="0.55" stop-color="#4cffb3"/><stop offset="0.6" stop-color="#1affe5"/><stop offset="0.65" stop-color="#00e5ff"/><stop offset="0.7" stop-color="#00b3ff"/><stop offset="0.75" stop-color="#0080ff"/><stop offset="0.8" stop-color="#004cff"/><stop offset="0.85" stop-color="#001aff"/><stop offset="0.9" stop-color="#0000e5"/><stop offset="0.95" stop-color="#0000b3"/><stop offset="1" stop-color="#000080"/></linearGradient>
<clipPath id="cp1"><rect x="94.5" y="334.3" width="183.3" height="240.7"/></clipPath>
<clipPath id="cp2"><rect x="297.2" y="334.3" width="183.3" height="240.7"/></clipPath>
<clipPath id="cp3"><rect x="500.5" y="334.3" width="183.3" height="240.7"/></clipPath>
<radialGradient id="wheelg" cx="0.5" cy="0.5" r="0.5"><stop offset="0" stop-color="#fff" stop-opacity="0.35"/><stop offset="1" stop-color="#fff" stop-opacity="0"/></radialGradient>
</defs>
<g clip-path="url(#cp1)">
<rect x="94.5" y="334.3" width="183.3" height="240.7" fill="#e8282e"/>
<rect x="94.5" y="350.5" width="183.3" height="7" fill="#f04a18" opacity="0.55" filter="url(#bl1)"/>
<path d="M141.8,334.3 L141.8,350 L140.5,352 L137.5,356 L135.8,360 L134.9,370 L134.5,380 L136.2,387 L138.3,395 L140,405 L141.3,415 L142.2,428 L143,575 L231.5,575 L232,428 L232.5,415 L233.3,405 L234.6,395 L236.8,387 L238.5,380 L239.2,370 L237.2,360 L236,356 L234,352 L232.2,350 L232.2,334.3 Z" fill="none" stroke="#f47a20" stroke-width="7" filter="url(#bl1)"/>
<path d="M141.8,334.3 L141.8,350 L140.5,352 L137.5,356 L135.8,360 L134.9,370 L134.5,380 L136.2,387 L138.3,395 L140,405 L141.3,415 L142.2,428 L143,575 L231.5,575 L232,428 L232.5,415 L233.3,405 L234.6,395 L236.8,387 L238.5,380 L239.2,370 L237.2,360 L236,356 L234,352 L232.2,350 L232.2,334.3 Z" fill="none" stroke="#f0d828" stroke-width="3.2" filter="url(#bl05)"/>
<path d="M141.8,334.3 L141.8,350 L140.5,352 L137.5,356 L135.8,360 L134.9,370 L134.5,380 L136.2,387 L138.3,395 L140,405 L141.3,415 L142.2,428 L143,575 L231.5,575 L232,428 L232.5,415 L233.3,405 L234.6,395 L236.8,387 L238.5,380 L239.2,370 L237.2,360 L236,356 L234,352 L232.2,350 L232.2,334.3 Z" fill="url(#gstr)"/>
<defs><clipPath id="gclip2"><path d="M141.8,334.3 L141.8,350 L140.5,352 L137.5,356 L135.8,360 L134.9,370 L134.5,380 L136.2,387 L138.3,395 L140,405 L141.3,415 L142.2,428 L143,575 L231.5,575 L232,428 L232.5,415 L233.3,405 L234.6,395 L236.8,387 L238.5,380 L239.2,370 L237.2,360 L236,356 L234,352 L232.2,350 L232.2,334.3 Z"/></clipPath></defs>
<g clip-path="url(#gclip2)"><g>
<clipPath id="gclip3"><rect x="130" y="351" width="115" height="230"/></clipPath>
<g clip-path="url(#gclip3)">
<rect x="133" y="342.3" width="2.4" height="240.7" fill="url(#gstr)" transform="translate(0,-5.07)"/>
<rect x="135.2" y="342.3" width="2.4" height="240.7" fill="url(#gstr)" transform="translate(0,-4.65)"/>
<rect x="137.4" y="342.3" width="2.4" height="240.7" fill="url(#gstr)" transform="translate(0,-4.26)"/>
<rect x="139.6" y="342.3" width="2.4" height="240.7" fill="url(#gstr)" transform="translate(0,-3.88)"/>
<rect x="141.8" y="342.3" width="2.4" height="240.7" fill="url(#gstr)" transform="translate(0,-3.52)"/>
<rect x="144" y="342.3" width="2.4" height="240.7" fill="url(#gstr)" transform="translate(0,-3.18)"/>
<rect x="146.2" y="342.3" width="2.4" height="240.7" fill="url(#gstr)" transform="translate(0,-2.85)"/>
<rect x="148.4" y="342.3" width="2.4" height="240.7" fill="url(#gstr)" transform="translate(0,-2.55)"/>
<rect x="150.6" y="342.3" width="2.4" height="240.7" fill="url(#gstr)" transform="translate(0,-2.26)"/>
<rect x="152.8" y="342.3" width="2.4" height="240.7" fill="url(#gstr)" transform="translate(0,-1.98)"/>
<rect x="155" y="342.3" width="2.4" height="240.7" fill="url(#gstr)" transform="translate(0,-1.73)"/>
<rect x="157.2" y="342.3" width="2.4" height="240.7" fill="url(#gstr)" transform="translate(0,-1.49)"/>
<rect x="159.4" y="342.3" width="2.4" height="240.7" fill="url(#gstr)" transform="translate(0,-1.27)"/>
<rect x="161.6" y="342.3" width="2.4" height="240.7" fill="url(#gstr)" transform="translate(0,-1.07)"/>
<rect x="163.8" y="342.3" width="2.4" height="240.7" fill="url(#gstr)" transform="translate(0,-0.88)"/>
<rect x="166" y="342.3" width="2.4" height="240.7" fill="url(#gstr)" transform="translate(0,-0.72)"/>
<rect x="168.2" y="342.3" width="2.4" height="240.7" fill="url(#gstr)" transform="translate(0,-0.57)"/>
<rect x="170.4" y="342.3" width="2.4" height="240.7" fill="url(#gstr)" transform="translate(0,-0.44)"/>
<rect x="172.6" y="342.3" width="2.4" height="240.7" fill="url(#gstr)" transform="translate(0,-0.32)"/>
<rect x="174.8" y="342.3" width="2.4" height="240.7" fill="url(#gstr)" transform="translate(0,-0.22)"/>
<rect x="177" y="342.3" width="2.4" height="240.7" fill="url(#gstr)" transform="translate(0,-0.14)"/>
<rect x="179.2" y="342.3" width="2.4" height="240.7" fill="url(#gstr)" transform="translate(0,-0.08)"/>
<rect x="181.4" y="342.3" width="2.4" height="240.7" fill="url(#gstr)" transform="translate(0,-0.04)"/>
<rect x="183.6" y="342.3" width="2.4" height="240.7" fill="url(#gstr)" transform="translate(0,-0.01)"/>
<rect x="185.8" y="342.3" width="2.4" height="240.7" fill="url(#gstr)" transform="translate(0,-0)"/>
<rect x="188" y="342.3" width="2.4" height="240.7" fill="url(#gstr)" transform="translate(0,-0.01)"/>
<rect x="190.2" y="342.3" width="2.4" height="240.7" fill="url(#gstr)" transform="translate(0,-0.03)"/>
<rect x="192.4" y="342.3" width="2.4" height="240.7" fill="url(#gstr)" transform="translate(0,-0.08)"/>
<rect x="194.6" y="342.3" width="2.4" height="240.7" fill="url(#gstr)" transform="translate(0,-0.14)"/>
<rect x="196.8" y="342.3" width="2.4" height="240.7" fill="url(#gstr)" transform="translate(0,-0.22)"/>
<rect x="199" y="342.3" width="2.4" height="240.7" fill="url(#gstr)" transform="translate(0,-0.31)"/>
<rect x="201.2" y="342.3" width="2.4" height="240.7" fill="url(#gstr)" transform="translate(0,-0.42)"/>
<rect x="203.4" y="342.3" width="2.4" height="240.7" fill="url(#gstr)" transform="translate(0,-0.55)"/>
<rect x="205.6" y="342.3" width="2.4" height="240.7" fill="url(#gstr)" transform="translate(0,-0.7)"/>
<rect x="207.8" y="342.3" width="2.4" height="240.7" fill="url(#gstr)" transform="translate(0,-0.87)"/>
<rect x="210" y="342.3" width="2.4" height="240.7" fill="url(#gstr)" transform="translate(0,-1.05)"/>
<rect x="212.2" y="342.3" width="2.4" height="240.7" fill="url(#gstr)" transform="translate(0,-1.25)"/>
<rect x="214.4" y="342.3" width="2.4" height="240.7" fill="url(#gstr)" transform="translate(0,-1.47)"/>
<rect x="216.6" y="342.3" width="2.4" height="240.7" fill="url(#gstr)" transform="translate(0,-1.71)"/>
<rect x="218.8" y="342.3" width="2.4" height="240.7" fill="url(#gstr)" transform="translate(0,-1.96)"/>
<rect x="221" y="342.3" width="2.4" height="240.7" fill="url(#gstr)" transform="translate(0,-2.23)"/>
<rect x="223.2" y="342.3" width="2.4" height="240.7" fill="url(#gstr)" transform="translate(0,-2.52)"/>
<rect x="225.4" y="342.3" width="2.4" height="240.7" fill="url(#gstr)" transform="translate(0,-2.83)"/>
<rect x="227.6" y="342.3" width="2.4" height="240.7" fill="url(#gstr)" transform="translate(0,-3.15)"/>
<rect x="229.8" y="342.3" width="2.4" height="240.7" fill="url(#gstr)" transform="translate(0,-3.49)"/>
<rect x="232" y="342.3" width="2.4" height="240.7" fill="url(#gstr)" transform="translate(0,-3.85)"/>
<rect x="234.2" y="342.3" width="2.4" height="240.7" fill="url(#gstr)" transform="translate(0,-4.22)"/>
<rect x="236.4" y="342.3" width="2.4" height="240.7" fill="url(#gstr)" transform="translate(0,-4.62)"/>
<rect x="238.6" y="342.3" width="2.4" height="240.7" fill="url(#gstr)" transform="translate(0,-5.03)"/>
<rect x="240.8" y="342.3" width="2.4" height="240.7" fill="url(#gstr)" transform="translate(0,-5.46)"/>
</g></g></g>
<defs><linearGradient id="gedge" x1="134" y1="0" x2="239" y2="0" gradientUnits="userSpaceOnUse"><stop offset="0" stop-color="#e8e020" stop-opacity="0.8"/><stop offset="0.1" stop-color="#d8e020" stop-opacity="0"/><stop offset="0.9" stop-color="#d8e020" stop-opacity="0"/><stop offset="1" stop-color="#e8e020" stop-opacity="0.8"/></linearGradient><clipPath id="gclip"><path d="M141.8,334.3 L141.8,350 L140.5,352 L137.5,356 L135.8,360 L134.9,370 L134.5,380 L136.2,387 L138.3,395 L140,405 L141.3,415 L142.2,428 L143,575 L231.5,575 L232,428 L232.5,415 L233.3,405 L234.6,395 L236.8,387 L238.5,380 L239.2,370 L237.2,360 L236,356 L234,352 L232.2,350 L232.2,334.3 Z"/></clipPath></defs>
<rect x="134" y="352" width="105" height="223" fill="url(#gedge)" clip-path="url(#gclip)"/>
<polygon points="135,369 127.5,372.5 135,376" fill="#f8a020" opacity="0.9" filter="url(#bl09)"/>
<polygon points="136,384 130,387.5 136,391" fill="#f8a020" opacity="0.9" filter="url(#bl09)"/>
<polygon points="239,369 245.5,372.5 239,376" fill="#f8a020" opacity="0.9" filter="url(#bl09)"/>
<polygon points="237,384 243.5,387.5 237,391" fill="#f8a020" opacity="0.9" filter="url(#bl09)"/>
<line x1="94.5" y1="349.9" x2="277.8" y2="349.9" stroke="#fff" stroke-width="2.2" stroke-dasharray="10.5 13.5" stroke-dashoffset="-1"/>
</g>
<g clip-path="url(#cp2)">
<rect x="297.2" y="334.3" width="183.3" height="240.7" fill="url(#gjet)"/>
<polygon points="297.2,348 480.5,348 480.5,362 482,378 435.7,358 389.2,378 342.6,362" fill="#b00000" opacity="0.28" filter="url(#bl2)"/>
<polygon points="340,352 345,352 342.6,372" fill="#ff6000" opacity="0.3" filter="url(#bl1)"/>
<ellipse cx="436" cy="352.5" rx="5" ry="3" fill="#600000" opacity="0.45" filter="url(#bl1)"/>
<line x1="297.2" y1="349.9" x2="480.5" y2="349.9" stroke="#fff" stroke-width="2.2" stroke-dasharray="10.5 14.3" stroke-dashoffset="-2"/>
</g>
<g clip-path="url(#cp3)">
<rect x="500.5" y="334.3" width="183.3" height="240.7" fill="#80ff78"/>
<g filter="url(#bl09)">
<polyline points="490.5,381.23 546.3,355 693.8,424.32" fill="none" stroke="#38e8d0" stroke-opacity="0.5" stroke-width="3.4"/>
<polyline points="490.5,389.23 546.3,363 693.8,432.32" fill="none" stroke="#e8f050" stroke-opacity="0.5" stroke-width="3.4"/>
<polyline points="490.5,397.23 546.3,371 693.8,440.32" fill="none" stroke="#38e8d0" stroke-opacity="0.34" stroke-width="3.4"/>
<polyline points="490.5,405.23 546.3,379 693.8,448.32" fill="none" stroke="#e8f050" stroke-opacity="0.33" stroke-width="3.4"/>
<polyline points="490.5,413.23 546.3,387 693.8,456.32" fill="none" stroke="#38e8d0" stroke-opacity="0.32" stroke-width="3.4"/>
<polyline points="490.5,421.23 546.3,395 693.8,464.32" fill="none" stroke="#e8f050" stroke-opacity="0.31" stroke-width="3.4"/>
<polyline points="490.5,429.23 546.3,403 693.8,472.32" fill="none" stroke="#38e8d0" stroke-opacity="0.3" stroke-width="3.4"/>
<polyline points="490.5,437.23 546.3,411 693.8,480.32" fill="none" stroke="#e8f050" stroke-opacity="0.29" stroke-width="3.4"/>
<polyline points="490.5,445.23 546.3,419 693.8,488.32" fill="none" stroke="#38e8d0" stroke-opacity="0.28" stroke-width="3.4"/>
<polyline points="490.5,453.23 546.3,427 693.8,496.32" fill="none" stroke="#e8f050" stroke-opacity="0.26" stroke-width="3.4"/>
<polyline points="490.5,461.23 546.3,435 693.8,504.32" fill="none" stroke="#38e8d0" stroke-opacity="0.25" stroke-width="3.4"/>
<polyline points="490.5,469.23 546.3,443 693.8,512.33" fill="none" stroke="#e8f050" stroke-opacity="0.24" stroke-width="3.4"/>
<polyline points="490.5,477.23 546.3,451 693.8,520.33" fill="none" stroke="#38e8d0" stroke-opacity="0.23" stroke-width="3.4"/>
<polyline points="490.5,485.23 546.3,459 693.8,528.33" fill="none" stroke="#e8f050" stroke-opacity="0.22" stroke-width="3.4"/>
<polyline points="490.5,493.23 546.3,467 693.8,536.33" fill="none" stroke="#38e8d0" stroke-opacity="0.21" stroke-width="3.4"/>
<polyline points="490.5,501.23 546.3,475 693.8,544.33" fill="none" stroke="#e8f050" stroke-opacity="0.2" stroke-width="3.4"/>
<polyline points="490.5,509.23 546.3,483 693.8,552.33" fill="none" stroke="#38e8d0" stroke-opacity="0.19" stroke-width="3.4"/>
<polyline points="490.5,517.23 546.3,491 693.8,560.33" fill="none" stroke="#e8f050" stroke-opacity="0.18" stroke-width="3.4"/>
<polyline points="490.5,525.23 546.3,499 693.8,568.33" fill="none" stroke="#38e8d0" stroke-opacity="0.17" stroke-width="3.4"/>
<polyline points="490.5,533.23 546.3,507 693.8,576.33" fill="none" stroke="#e8f050" stroke-opacity="0.16" stroke-width="3.4"/>
<polyline points="490.5,541.23 546.3,515 693.8,584.33" fill="none" stroke="#38e8d0" stroke-opacity="0.15" stroke-width="3.4"/>
<polyline points="490.5,549.23 546.3,523 693.8,592.33" fill="none" stroke="#e8f050" stroke-opacity="0.14" stroke-width="3.4"/>
<polyline points="490.5,557.23 546.3,531 693.8,600.33" fill="none" stroke="#38e8d0" stroke-opacity="0.13" stroke-width="3.4"/>
<polyline points="490.5,565.23 546.3,539 693.8,608.33" fill="none" stroke="#e8f050" stroke-opacity="0.12" stroke-width="3.4"/>
<polyline points="490.5,573.23 546.3,547 693.8,616.33" fill="none" stroke="#38e8d0" stroke-opacity="0.11" stroke-width="3.4"/>
<polyline points="490.5,581.23 546.3,555 693.8,624.33" fill="none" stroke="#e8f050" stroke-opacity="0.1" stroke-width="3.4"/>
<polyline points="490.5,589.23 546.3,563 693.8,632.33" fill="none" stroke="#38e8d0" stroke-opacity="0.08" stroke-width="3.4"/>
<polyline points="490.5,597.23 546.3,571 693.8,640.33" fill="none" stroke="#e8f050" stroke-opacity="0.07" stroke-width="3.4"/>
<polyline points="490.5,605.23 546.3,579 693.8,648.33" fill="none" stroke="#38e8d0" stroke-opacity="0.06" stroke-width="3.4"/>
<polyline points="490.5,613.23 546.3,587 693.8,656.33" fill="none" stroke="#e8f050" stroke-opacity="0.05" stroke-width="3.4"/>
<polyline points="490.5,424.65 638.7,355 693.8,380.9" fill="none" stroke="#e8f050" stroke-opacity="0.5" stroke-width="3.4"/>
<polyline points="490.5,432.65 638.7,363 693.8,388.9" fill="none" stroke="#38e8d0" stroke-opacity="0.5" stroke-width="3.4"/>
<polyline points="490.5,440.65 638.7,371 693.8,396.9" fill="none" stroke="#e8f050" stroke-opacity="0.34" stroke-width="3.4"/>
<polyline points="490.5,448.65 638.7,379 693.8,404.9" fill="none" stroke="#38e8d0" stroke-opacity="0.33" stroke-width="3.4"/>
<polyline points="490.5,456.65 638.7,387 693.8,412.9" fill="none" stroke="#e8f050" stroke-opacity="0.32" stroke-width="3.4"/>
<polyline points="490.5,464.65 638.7,395 693.8,420.9" fill="none" stroke="#38e8d0" stroke-opacity="0.31" stroke-width="3.4"/>
<polyline points="490.5,472.65 638.7,403 693.8,428.9" fill="none" stroke="#e8f050" stroke-opacity="0.3" stroke-width="3.4"/>
<polyline points="490.5,480.65 638.7,411 693.8,436.9" fill="none" stroke="#38e8d0" stroke-opacity="0.29" stroke-width="3.4"/>
<polyline points="490.5,488.65 638.7,419 693.8,444.9" fill="none" stroke="#e8f050" stroke-opacity="0.28" stroke-width="3.4"/>
<polyline points="490.5,496.65 638.7,427 693.8,452.9" fill="none" stroke="#38e8d0" stroke-opacity="0.26" stroke-width="3.4"/>
<polyline points="490.5,504.65 638.7,435 693.8,460.9" fill="none" stroke="#e8f050" stroke-opacity="0.25" stroke-width="3.4"/>
<polyline points="490.5,512.65 638.7,443 693.8,468.9" fill="none" stroke="#38e8d0" stroke-opacity="0.24" stroke-width="3.4"/>
<polyline points="490.5,520.65 638.7,451 693.8,476.9" fill="none" stroke="#e8f050" stroke-opacity="0.23" stroke-width="3.4"/>
<polyline points="490.5,528.65 638.7,459 693.8,484.9" fill="none" stroke="#38e8d0" stroke-opacity="0.22" stroke-width="3.4"/>
<polyline points="490.5,536.65 638.7,467 693.8,492.9" fill="none" stroke="#e8f050" stroke-opacity="0.21" stroke-width="3.4"/>
<polyline points="490.5,544.65 638.7,475 693.8,500.9" fill="none" stroke="#38e8d0" stroke-opacity="0.2" stroke-width="3.4"/>
<polyline points="490.5,552.65 638.7,483 693.8,508.9" fill="none" stroke="#e8f050" stroke-opacity="0.19" stroke-width="3.4"/>
<polyline points="490.5,560.65 638.7,491 693.8,516.9" fill="none" stroke="#38e8d0" stroke-opacity="0.18" stroke-width="3.4"/>
<polyline points="490.5,568.65 638.7,499 693.8,524.9" fill="none" stroke="#e8f050" stroke-opacity="0.17" stroke-width="3.4"/>
<polyline points="490.5,576.65 638.7,507 693.8,532.9" fill="none" stroke="#38e8d0" stroke-opacity="0.16" stroke-width="3.4"/>
<polyline points="490.5,584.65 638.7,515 693.8,540.9" fill="none" stroke="#e8f050" stroke-opacity="0.15" stroke-width="3.4"/>
<polyline points="490.5,592.65 638.7,523 693.8,548.9" fill="none" stroke="#38e8d0" stroke-opacity="0.14" stroke-width="3.4"/>
<polyline points="490.5,600.65 638.7,531 693.8,556.9" fill="none" stroke="#e8f050" stroke-opacity="0.13" stroke-width="3.4"/>
<polyline points="490.5,608.65 638.7,539 693.8,564.9" fill="none" stroke="#38e8d0" stroke-opacity="0.12" stroke-width="3.4"/>
<polyline points="490.5,616.65 638.7,547 693.8,572.9" fill="none" stroke="#e8f050" stroke-opacity="0.11" stroke-width="3.4"/>
<polyline points="490.5,624.65 638.7,555 693.8,580.9" fill="none" stroke="#38e8d0" stroke-opacity="0.1" stroke-width="3.4"/>
<polyline points="490.5,632.65 638.7,563 693.8,588.9" fill="none" stroke="#e8f050" stroke-opacity="0.08" stroke-width="3.4"/>
<polyline points="490.5,640.65 638.7,571 693.8,596.9" fill="none" stroke="#38e8d0" stroke-opacity="0.07" stroke-width="3.4"/>
<polyline points="490.5,648.65 638.7,579 693.8,604.9" fill="none" stroke="#e8f050" stroke-opacity="0.06" stroke-width="3.4"/>
<polyline points="490.5,656.65 638.7,587 693.8,612.9" fill="none" stroke="#38e8d0" stroke-opacity="0.05" stroke-width="3.4"/>
</g>
<radialGradient id="bb" cx="0.5" cy="0.5" r="0.5"><stop offset="0" stop-color="#000080"/><stop offset="0.45" stop-color="#0010e0"/><stop offset="0.8" stop-color="#0060ff" stop-opacity="0.8"/><stop offset="1" stop-color="#00a0ff" stop-opacity="0"/></radialGradient>
<radialGradient id="rbg" cx="0.5" cy="0.5" r="0.5"><stop offset="0" stop-color="#a00000"/><stop offset="0.45" stop-color="#d80000"/><stop offset="0.8" stop-color="#ff3000" stop-opacity="0.8"/><stop offset="1" stop-color="#ff8000" stop-opacity="0"/></radialGradient>
<polygon points="546.3,343 536,362 556.6,362" fill="#30e0f0" opacity="0.9" filter="url(#bl1)"/>
<ellipse cx="546.3" cy="352.8" rx="5" ry="5.5" fill="url(#bb)" filter="url(#bl05)"/>
<polygon points="638.7,343 628.4,362 649,362" fill="#f0f020" opacity="0.9" filter="url(#bl1)"/>
<polygon points="638.7,346 632.5,358 645,358" fill="#ff9010" opacity="0.9" filter="url(#bl1)"/>
<ellipse cx="638.7" cy="352.8" rx="4.5" ry="5" fill="url(#rbg)" filter="url(#bl05)"/>
</g>
<line x1="502.8" y1="350" x2="521" y2="350" stroke="#000" stroke-width="3"/>
<polygon points="536.6,350 520,341.7 520,358.3" fill="#000"/>
<line x1="549.4" y1="350" x2="557.4" y2="350" stroke="#fff" stroke-width="2.5"/>
<polygon points="558.2,350 575.4,341.7 575.4,358.3" fill="#000"/>
<line x1="574" y1="350" x2="625.4" y2="350" stroke="#000" stroke-width="3"/>
<line x1="624.8" y1="350" x2="635" y2="350" stroke="#fff" stroke-width="2.5"/>
<line x1="649" y1="350" x2="667" y2="350" stroke="#000" stroke-width="3"/>
<polygon points="682.2,350 665.6,341.7 665.6,358.3" fill="#000"/>
<text x="573.6" y="392.4" font-size="22" fill="#000" font-weight="bold">E</text>
<text x="587.6" y="397.2" font-size="15" fill="#000">BPV</text>
<rect x="94.5" y="334.3" width="183.3" height="240.7" fill="none" stroke="#222" stroke-width="1.3"/>
<line x1="140.7" y1="334.3" x2="140.7" y2="340.8" stroke="#222" stroke-width="1.2"/>
<line x1="140.7" y1="575" x2="140.7" y2="568.5" stroke="#222" stroke-width="1.2"/>
<line x1="186.6" y1="334.3" x2="186.6" y2="340.8" stroke="#222" stroke-width="1.2"/>
<line x1="186.6" y1="575" x2="186.6" y2="568.5" stroke="#222" stroke-width="1.2"/>
<line x1="232.5" y1="334.3" x2="232.5" y2="340.8" stroke="#222" stroke-width="1.2"/>
<line x1="232.5" y1="575" x2="232.5" y2="568.5" stroke="#222" stroke-width="1.2"/>
<line x1="87.2" y1="374.42" x2="94.5" y2="374.42" stroke="#222" stroke-width="1.3"/>
<line x1="87.2" y1="414.53" x2="94.5" y2="414.53" stroke="#222" stroke-width="1.3"/>
<line x1="87.2" y1="454.65" x2="94.5" y2="454.65" stroke="#222" stroke-width="1.3"/>
<line x1="87.2" y1="494.77" x2="94.5" y2="494.77" stroke="#222" stroke-width="1.3"/>
<line x1="87.2" y1="534.88" x2="94.5" y2="534.88" stroke="#222" stroke-width="1.3"/>
<rect x="297.2" y="334.3" width="183.3" height="240.7" fill="none" stroke="#222" stroke-width="1.3"/>
<line x1="343.4" y1="334.3" x2="343.4" y2="340.8" stroke="#222" stroke-width="1.2"/>
<line x1="343.4" y1="575" x2="343.4" y2="568.5" stroke="#222" stroke-width="1.2"/>
<line x1="389.3" y1="334.3" x2="389.3" y2="340.8" stroke="#222" stroke-width="1.2"/>
<line x1="389.3" y1="575" x2="389.3" y2="568.5" stroke="#222" stroke-width="1.2"/>
<line x1="435.2" y1="334.3" x2="435.2" y2="340.8" stroke="#222" stroke-width="1.2"/>
<line x1="435.2" y1="575" x2="435.2" y2="568.5" stroke="#222" stroke-width="1.2"/>
<line x1="289.9" y1="374.42" x2="297.2" y2="374.42" stroke="#222" stroke-width="1.3"/>
<line x1="289.9" y1="414.53" x2="297.2" y2="414.53" stroke="#222" stroke-width="1.3"/>
<line x1="289.9" y1="454.65" x2="297.2" y2="454.65" stroke="#222" stroke-width="1.3"/>
<line x1="289.9" y1="494.77" x2="297.2" y2="494.77" stroke="#222" stroke-width="1.3"/>
<line x1="289.9" y1="534.88" x2="297.2" y2="534.88" stroke="#222" stroke-width="1.3"/>
<rect x="500.5" y="334.3" width="183.3" height="240.7" fill="none" stroke="#222" stroke-width="1.3"/>
<line x1="546.7" y1="334.3" x2="546.7" y2="340.8" stroke="#222" stroke-width="1.2"/>
<line x1="546.7" y1="575" x2="546.7" y2="568.5" stroke="#222" stroke-width="1.2"/>
<line x1="592.6" y1="334.3" x2="592.6" y2="340.8" stroke="#222" stroke-width="1.2"/>
<line x1="592.6" y1="575" x2="592.6" y2="568.5" stroke="#222" stroke-width="1.2"/>
<line x1="638.5" y1="334.3" x2="638.5" y2="340.8" stroke="#222" stroke-width="1.2"/>
<line x1="638.5" y1="575" x2="638.5" y2="568.5" stroke="#222" stroke-width="1.2"/>
<line x1="493.2" y1="374.42" x2="500.5" y2="374.42" stroke="#222" stroke-width="1.3"/>
<line x1="493.2" y1="414.53" x2="500.5" y2="414.53" stroke="#222" stroke-width="1.3"/>
<line x1="493.2" y1="454.65" x2="500.5" y2="454.65" stroke="#222" stroke-width="1.3"/>
<line x1="493.2" y1="494.77" x2="500.5" y2="494.77" stroke="#222" stroke-width="1.3"/>
<line x1="493.2" y1="534.88" x2="500.5" y2="534.88" stroke="#222" stroke-width="1.3"/>
<text x="71.2" y="341.9" font-size="21" fill="#000" text-anchor="middle">0</text>
<text x="71.2" y="422.13" font-size="21" fill="#000" text-anchor="middle">10</text>
<text x="71.2" y="502.37" font-size="21" fill="#000" text-anchor="middle">20</text>
<text x="71.2" y="582.6" font-size="21" fill="#000" text-anchor="middle">30</text>
<text transform="translate(35.6,454) rotate(-90)" font-size="25.8" text-anchor="middle" fill="#000">Time (ps)</text>
<rect x="140.4" y="585.6" width="91.2" height="4.5" fill="#000"/>
<text x="188.3" y="616.2" font-size="23" fill="#000" text-anchor="middle">15 nm</text>
<line x1="478.8" y1="602" x2="516.6" y2="602" stroke="#000" stroke-width="2.5"/>
<polygon points="532.1,602 515.6,609.75 515.6,594.25" fill="#000"/>
<text x="544.5" y="609.6" font-size="22.5" fill="#000" letter-spacing="1.3">[011]</text>
<rect x="190.2" y="470.6" width="84.8" height="101.8" fill="#fff" stroke="#777" stroke-width="1.4"/>
<rect x="190.2" y="470.6" width="84.8" height="22.3" fill="#000"/>
<text x="232.4" y="488.6" font-size="19" font-style="italic" fill="#fff" text-anchor="middle">θ</text>
<clipPath id="wclip"><circle cx="232.3" cy="533.4" r="27.9"/></clipPath>
<g clip-path="url(#wclip)">
<path d="M232.3,533.4 L232.3,499.92 L235.1,500.04 Z" fill="#fe5cd9" stroke="#fe5cd9" stroke-width="0.6"/>
<path d="M232.3,533.4 L234.64,500 L237.42,500.31 Z" fill="#fc57c9" stroke="#fc57c9" stroke-width="0.6"/>
<path d="M232.3,533.4 L236.96,500.25 L239.72,500.75 Z" fill="#fa52ba" stroke="#fa52ba" stroke-width="0.6"/>
<path d="M232.3,533.4 L239.26,500.65 L241.98,501.35 Z" fill="#f94daa" stroke="#f94daa" stroke-width="0.6"/>
<path d="M232.3,533.4 L241.53,501.22 L244.19,502.1 Z" fill="#f7489b" stroke="#f7489b" stroke-width="0.6"/>
<path d="M232.3,533.4 L243.75,501.94 L246.34,503.01 Z" fill="#f5438b" stroke="#f5438b" stroke-width="0.6"/>
<path d="M232.3,533.4 L245.92,502.81 L248.43,504.06 Z" fill="#f33e7c" stroke="#f33e7c" stroke-width="0.6"/>
<path d="M232.3,533.4 L248.02,503.84 L250.44,505.26 Z" fill="#f2396c" stroke="#f2396c" stroke-width="0.6"/>
<path d="M232.3,533.4 L250.04,505.01 L252.36,506.59 Z" fill="#f0345d" stroke="#f0345d" stroke-width="0.6"/>
<path d="M232.3,533.4 L251.98,506.31 L254.18,508.06 Z" fill="#ee2f4d" stroke="#ee2f4d" stroke-width="0.6"/>
<path d="M232.3,533.4 L253.82,507.75 L255.89,509.64 Z" fill="#ee3144" stroke="#ee3144" stroke-width="0.6"/>
<path d="M232.3,533.4 L255.56,509.32 L257.49,511.35 Z" fill="#f03940" stroke="#f03940" stroke-width="0.6"/>
<path d="M232.3,533.4 L257.18,511 L258.97,513.16 Z" fill="#f1423d" stroke="#f1423d" stroke-width="0.6"/>
<path d="M232.3,533.4 L258.68,512.79 L260.31,515.07 Z" fill="#f24a39" stroke="#f24a39" stroke-width="0.6"/>
<path d="M232.3,533.4 L260.06,514.68 L261.53,517.07 Z" fill="#f45235" stroke="#f45235" stroke-width="0.6"/>
<path d="M232.3,533.4 L261.29,516.66 L262.59,519.14 Z" fill="#f55b32" stroke="#f55b32" stroke-width="0.6"/>
<path d="M232.3,533.4 L262.39,518.72 L263.51,521.29 Z" fill="#f6632e" stroke="#f6632e" stroke-width="0.6"/>
<path d="M232.3,533.4 L263.34,520.86 L264.28,523.5 Z" fill="#f86c2b" stroke="#f86c2b" stroke-width="0.6"/>
<path d="M232.3,533.4 L264.14,523.05 L264.9,525.75 Z" fill="#f97427" stroke="#f97427" stroke-width="0.6"/>
<path d="M232.3,533.4 L264.79,525.3 L265.35,528.05 Z" fill="#fa7c23" stroke="#fa7c23" stroke-width="0.6"/>
<path d="M232.3,533.4 L265.27,527.59 L265.64,530.37 Z" fill="#fc8520" stroke="#fc8520" stroke-width="0.6"/>
<path d="M232.3,533.4 L265.6,529.9 L265.77,532.7 Z" fill="#fd8d1c" stroke="#fd8d1c" stroke-width="0.6"/>
<path d="M232.3,533.4 L265.76,532.23 L265.74,535.04 Z" fill="#ff9619" stroke="#ff9619" stroke-width="0.6"/>
<path d="M232.3,533.4 L265.76,534.57 L265.54,537.36 Z" fill="#fb9e19" stroke="#fb9e19" stroke-width="0.6"/>
<path d="M232.3,533.4 L265.6,536.9 L265.19,539.67 Z" fill="#f8a719" stroke="#f8a719" stroke-width="0.6"/>
<path d="M232.3,533.4 L265.27,539.21 L264.67,541.95 Z" fill="#f5af19" stroke="#f5af19" stroke-width="0.6"/>
<path d="M232.3,533.4 L264.79,541.5 L263.99,544.19 Z" fill="#f2b819" stroke="#f2b819" stroke-width="0.6"/>
<path d="M232.3,533.4 L264.14,543.75 L263.16,546.37 Z" fill="#efc019" stroke="#efc019" stroke-width="0.6"/>
<path d="M232.3,533.4 L263.34,545.94 L262.18,548.5 Z" fill="#ecc919" stroke="#ecc919" stroke-width="0.6"/>
<path d="M232.3,533.4 L262.39,548.08 L261.06,550.54 Z" fill="#e9d219" stroke="#e9d219" stroke-width="0.6"/>
<path d="M232.3,533.4 L261.29,550.14 L259.79,552.51 Z" fill="#e6da19" stroke="#e6da19" stroke-width="0.6"/>
<path d="M232.3,533.4 L260.06,552.12 L258.39,554.38 Z" fill="#e0e019" stroke="#e0e019" stroke-width="0.6"/>
<path d="M232.3,533.4 L258.68,554.01 L256.87,556.15 Z" fill="#d2dd1a" stroke="#d2dd1a" stroke-width="0.6"/>
<path d="M232.3,533.4 L257.18,555.8 L255.22,557.81 Z" fill="#c3db1c" stroke="#c3db1c" stroke-width="0.6"/>
<path d="M232.3,533.4 L255.56,557.48 L253.46,559.35 Z" fill="#b5d81d" stroke="#b5d81d" stroke-width="0.6"/>
<path d="M232.3,533.4 L253.82,559.05 L251.6,560.76 Z" fill="#a6d61f" stroke="#a6d61f" stroke-width="0.6"/>
<path d="M232.3,533.4 L251.98,560.49 L249.64,562.04 Z" fill="#98d320" stroke="#98d320" stroke-width="0.6"/>
<path d="M232.3,533.4 L250.04,561.79 L247.6,563.18 Z" fill="#8ad122" stroke="#8ad122" stroke-width="0.6"/>
<path d="M232.3,533.4 L248.02,562.96 L245.49,564.17 Z" fill="#7bce23" stroke="#7bce23" stroke-width="0.6"/>
<path d="M232.3,533.4 L245.92,563.99 L243.31,565.02 Z" fill="#6dcc25" stroke="#6dcc25" stroke-width="0.6"/>
<path d="M232.3,533.4 L243.75,564.86 L241.08,565.71 Z" fill="#5ec926" stroke="#5ec926" stroke-width="0.6"/>
<path d="M232.3,533.4 L241.53,565.58 L238.8,566.24 Z" fill="#50c627" stroke="#50c627" stroke-width="0.6"/>
<path d="M232.3,533.4 L239.26,566.15 L236.5,566.62 Z" fill="#42c429" stroke="#42c429" stroke-width="0.6"/>
<path d="M232.3,533.4 L236.96,566.55 L234.17,566.83 Z" fill="#33c12a" stroke="#33c12a" stroke-width="0.6"/>
<path d="M232.3,533.4 L234.64,566.8 L231.83,566.88 Z" fill="#25bf2c" stroke="#25bf2c" stroke-width="0.6"/>
<path d="M232.3,533.4 L232.3,566.88 L229.5,566.76 Z" fill="#1ebf33" stroke="#1ebf33" stroke-width="0.6"/>
<path d="M232.3,533.4 L229.96,566.8 L227.18,566.49 Z" fill="#20c241" stroke="#20c241" stroke-width="0.6"/>
<path d="M232.3,533.4 L227.64,566.55 L224.88,566.05 Z" fill="#21c54e" stroke="#21c54e" stroke-width="0.6"/>
<path d="M232.3,533.4 L225.34,566.15 L222.62,565.45 Z" fill="#22c75b" stroke="#22c75b" stroke-width="0.6"/>
<path d="M232.3,533.4 L223.07,565.58 L220.41,564.7 Z" fill="#24ca69" stroke="#24ca69" stroke-width="0.6"/>
<path d="M232.3,533.4 L220.85,564.86 L218.26,563.79 Z" fill="#25cd76" stroke="#25cd76" stroke-width="0.6"/>
<path d="M232.3,533.4 L218.68,563.99 L216.17,562.74 Z" fill="#26d083" stroke="#26d083" stroke-width="0.6"/>
<path d="M232.3,533.4 L216.58,562.96 L214.16,561.54 Z" fill="#28d391" stroke="#28d391" stroke-width="0.6"/>
<path d="M232.3,533.4 L214.56,561.79 L212.24,560.21 Z" fill="#29d69e" stroke="#29d69e" stroke-width="0.6"/>
<path d="M232.3,533.4 L212.62,560.49 L210.42,558.74 Z" fill="#2ad9ab" stroke="#2ad9ab" stroke-width="0.6"/>
<path d="M232.3,533.4 L210.78,559.05 L208.71,557.16 Z" fill="#2cdbb9" stroke="#2cdbb9" stroke-width="0.6"/>
<path d="M232.3,533.4 L209.04,557.48 L207.11,555.45 Z" fill="#2ddbc4" stroke="#2ddbc4" stroke-width="0.6"/>
<path d="M232.3,533.4 L207.42,555.8 L205.63,553.64 Z" fill="#2fcfc9" stroke="#2fcfc9" stroke-width="0.6"/>
<path d="M232.3,533.4 L205.92,554.01 L204.29,551.73 Z" fill="#31c4cf" stroke="#31c4cf" stroke-width="0.6"/>
<path d="M232.3,533.4 L204.54,552.12 L203.07,549.73 Z" fill="#32b9d4" stroke="#32b9d4" stroke-width="0.6"/>
<path d="M232.3,533.4 L203.31,550.14 L202.01,547.66 Z" fill="#34aed9" stroke="#34aed9" stroke-width="0.6"/>
<path d="M232.3,533.4 L202.21,548.08 L201.09,545.51 Z" fill="#36a2df" stroke="#36a2df" stroke-width="0.6"/>
<path d="M232.3,533.4 L201.26,545.94 L200.32,543.3 Z" fill="#3897e4" stroke="#3897e4" stroke-width="0.6"/>
<path d="M232.3,533.4 L200.46,543.75 L199.7,541.05 Z" fill="#398ce9" stroke="#398ce9" stroke-width="0.6"/>
<path d="M232.3,533.4 L199.81,541.5 L199.25,538.75 Z" fill="#3b80ef" stroke="#3b80ef" stroke-width="0.6"/>
<path d="M232.3,533.4 L199.33,539.21 L198.96,536.43 Z" fill="#3d75f4" stroke="#3d75f4" stroke-width="0.6"/>
<path d="M232.3,533.4 L199,536.9 L198.83,534.1 Z" fill="#3f6af9" stroke="#3f6af9" stroke-width="0.6"/>
<path d="M232.3,533.4 L198.84,534.57 L198.86,531.76 Z" fill="#415fff" stroke="#415fff" stroke-width="0.6"/>
<path d="M232.3,533.4 L198.84,532.23 L199.06,529.44 Z" fill="#485cfd" stroke="#485cfd" stroke-width="0.6"/>
<path d="M232.3,533.4 L199,529.9 L199.41,527.13 Z" fill="#5059fc" stroke="#5059fc" stroke-width="0.6"/>
<path d="M232.3,533.4 L199.33,527.59 L199.93,524.85 Z" fill="#5757fb" stroke="#5757fb" stroke-width="0.6"/>
<path d="M232.3,533.4 L199.81,525.3 L200.61,522.61 Z" fill="#5f54f9" stroke="#5f54f9" stroke-width="0.6"/>
<path d="M232.3,533.4 L200.46,523.05 L201.44,520.43 Z" fill="#6651f8" stroke="#6651f8" stroke-width="0.6"/>
<path d="M232.3,533.4 L201.26,520.86 L202.42,518.3 Z" fill="#6e4ff7" stroke="#6e4ff7" stroke-width="0.6"/>
<path d="M232.3,533.4 L202.21,518.72 L203.54,516.26 Z" fill="#754cf5" stroke="#754cf5" stroke-width="0.6"/>
<path d="M232.3,533.4 L203.31,516.66 L204.81,514.29 Z" fill="#7d49f4" stroke="#7d49f4" stroke-width="0.6"/>
<path d="M232.3,533.4 L204.54,514.68 L206.21,512.42 Z" fill="#8547f3" stroke="#8547f3" stroke-width="0.6"/>
<path d="M232.3,533.4 L205.92,512.79 L207.73,510.65 Z" fill="#8c44f1" stroke="#8c44f1" stroke-width="0.6"/>
<path d="M232.3,533.4 L207.42,511 L209.38,508.99 Z" fill="#9441f0" stroke="#9441f0" stroke-width="0.6"/>
<path d="M232.3,533.4 L209.04,509.32 L211.14,507.45 Z" fill="#9d43ef" stroke="#9d43ef" stroke-width="0.6"/>
<path d="M232.3,533.4 L210.78,507.75 L213,506.04 Z" fill="#a645ed" stroke="#a645ed" stroke-width="0.6"/>
<path d="M232.3,533.4 L212.62,506.31 L214.96,504.76 Z" fill="#af48ec" stroke="#af48ec" stroke-width="0.6"/>
<path d="M232.3,533.4 L214.56,505.01 L217,503.62 Z" fill="#b94beb" stroke="#b94beb" stroke-width="0.6"/>
<path d="M232.3,533.4 L216.58,503.84 L219.11,502.63 Z" fill="#c24de9" stroke="#c24de9" stroke-width="0.6"/>
<path d="M232.3,533.4 L218.68,502.81 L221.29,501.78 Z" fill="#cb50e8" stroke="#cb50e8" stroke-width="0.6"/>
<path d="M232.3,533.4 L220.85,501.94 L223.52,501.09 Z" fill="#d553e7" stroke="#d553e7" stroke-width="0.6"/>
<path d="M232.3,533.4 L223.07,501.22 L225.8,500.56 Z" fill="#de55e5" stroke="#de55e5" stroke-width="0.6"/>
<path d="M232.3,533.4 L225.34,500.65 L228.1,500.18 Z" fill="#e758e4" stroke="#e758e4" stroke-width="0.6"/>
<path d="M232.3,533.4 L227.64,500.25 L230.43,499.97 Z" fill="#f15be3" stroke="#f15be3" stroke-width="0.6"/>
<path d="M232.3,533.4 L229.96,500 L232.77,499.92 Z" fill="#fa5de1" stroke="#fa5de1" stroke-width="0.6"/>
</g>
<circle cx="232.3" cy="533.4" r="27.9" fill="none" stroke="#444" stroke-width="0.8"/>
<line x1="232.3" y1="533.4" x2="246.44" y2="519.26" stroke="#000" stroke-width="0.9"/>
<polygon points="249.62,516.08 247.33,521.56 244.14,518.37" fill="#000"/>
<line x1="232.3" y1="533.4" x2="218.16" y2="547.54" stroke="#000" stroke-width="0.9"/>
<polygon points="214.98,550.72 217.27,545.24 220.46,548.43" fill="#000"/>
<line x1="232.3" y1="533.4" x2="218.16" y2="519.26" stroke="#000" stroke-width="0.9"/>
<polygon points="214.98,516.08 220.46,518.37 217.27,521.56" fill="#000"/>
<line x1="232.3" y1="533.4" x2="246.44" y2="547.54" stroke="#000" stroke-width="0.9"/>
<polygon points="249.62,550.72 244.14,548.43 247.33,545.24" fill="#000"/>
<text x="197" y="509.7" font-size="17" fill="#000">a</text>
<text x="206.3" y="503" font-size="11" fill="#000">−</text>
<text x="255" y="509.7" font-size="17" fill="#000">c</text>
<text x="264" y="503" font-size="11" fill="#000">+</text>
<text x="197" y="569.4" font-size="17" fill="#000">c</text>
<text x="206" y="562.5" font-size="11" fill="#000">−</text>
<text x="255.5" y="569.4" font-size="17" fill="#000">a</text>
<text x="265" y="562.5" font-size="11" fill="#000">+</text>
<rect x="393.2" y="470.6" width="84.3" height="101.8" fill="#fff" stroke="#777" stroke-width="1.4"/>
<rect x="393.2" y="470.6" width="84.3" height="22.3" fill="#000"/>
<text x="407" y="489.4" font-size="17" fill="#fff">p (cm<tspan font-size="11" dy="-6.5">−3</tspan><tspan dy="6.5">)</tspan></text>
<rect x="401.7" y="502" width="12.8" height="60" fill="url(#gcb)" stroke="#111" stroke-width="1.2"/>
<text x="421" y="511.2" font-size="14.5" fill="#000">+1.2E22</text>
<text x="421" y="563.5" font-size="14.5" fill="#000">+0.0E22</text>
<rect x="595.3" y="470.6" width="85.9" height="101.8" fill="#fff" stroke="#777" stroke-width="1.4"/>
<rect x="595.3" y="470.6" width="85.9" height="22.3" fill="#000"/>
<text x="605" y="489.4" font-size="17" fill="#fff"><tspan font-style="italic">ρ</tspan><tspan font-size="10.5" dy="3">f</tspan><tspan dy="-3"> (C/m</tspan><tspan font-size="11" dy="-6.5">3</tspan><tspan dy="6.5">)</tspan></text>
<rect x="604.2" y="502.2" width="12.6" height="59.3" fill="url(#gcb)" stroke="#111" stroke-width="1.2"/>
<text x="627.5" y="510.8" font-size="14.5" fill="#000">+3.0E8</text>
<text x="627.5" y="563.5" font-size="14.5" fill="#000">−3.0E8</text>
<text x="-1.5" y="649.3" font-size="40" fill="#000" font-weight="bold">c</text>
<clipPath id="cpc"><rect x="94.3" y="657.4" width="522.7" height="214"/></clipPath>
<g clip-path="url(#cpc)">
<polyline points="94.3,764 94.67,764 95.05,764 95.42,764 95.79,764 96.16,764 96.54,764 96.91,764 97.28,764 97.65,764 98.03,764 98.4,764 98.77,764 99.14,764 99.52,764 99.89,764 100.26,764 100.63,764 101.01,764 101.38,764 101.75,764 102.13,764 102.5,764 102.87,764 103.24,764 103.62,764 103.99,764 104.36,764 104.73,764 105.11,764 105.48,764 105.85,764 106.22,764 106.6,764 106.97,764 107.34,764 107.72,764 108.09,764 108.46,764 108.83,764 109.21,764 109.58,764 109.95,764 110.32,764 110.7,764 111.07,764 111.44,764 111.81,764 112.19,764 112.56,764 112.93,764 113.3,764 113.68,764 114.05,764 114.42,764 114.8,764 115.17,764 115.54,764 115.91,764 116.29,764 116.66,764 117.03,764 117.4,764 117.78,764 118.15,764 118.52,764 118.89,764 119.27,764 119.64,764 120.01,764 120.39,764 120.76,764 121.13,764 121.5,764 121.88,764 122.25,764 122.62,764 122.99,764 123.37,764 123.74,764 124.11,764 124.48,764 124.86,764 125.23,764 125.6,764 125.97,764 126.35,764 126.72,764 127.09,764 127.47,764 127.84,764 128.21,764 128.58,764 128.96,764 129.33,764 129.7,764 130.07,764 130.45,764 130.82,764 131.19,764 131.56,764 131.94,764 132.31,764 132.68,764 133.05,764 133.43,764 133.8,764 134.17,764 134.55,764 134.92,764 135.29,764 135.66,764 136.04,764 136.41,764 136.78,764 137.15,764 137.53,764 137.9,764 138.27,764 138.64,764 139.02,764 139.39,764 139.76,764 140.14,764 140.51,764 140.88,764 141.25,764 141.63,764 142,764 142.37,764 142.74,764 143.12,764 143.49,764 143.86,764 144.23,764 144.61,764 144.98,764 145.35,764 145.72,764 146.1,764 146.47,764 146.84,764 147.22,764 147.59,764 147.96,764 148.33,764 148.71,764 149.08,764 149.45,764 149.82,764 150.2,764 150.57,764 150.94,764 151.31,764 151.69,764 152.06,764 152.43,764 152.8,764 153.18,764 153.55,764 153.92,764 154.3,764 154.67,764 155.04,764 155.41,764 155.79,764 156.16,764 156.53,764 156.9,764 157.28,764 157.65,764 158.02,764 158.39,764 158.77,764 159.14,764 159.51,764 159.89,764 160.26,764 160.63,764 161,764 161.38,764 161.75,764 162.12,764 162.49,764 162.87,764 163.24,764 163.61,764 163.98,764 164.36,764 164.73,764 165.1,764 165.47,764 165.85,764 166.22,764 166.59,764 166.97,764 167.34,764 167.71,764 168.08,764 168.46,764 168.83,764 169.2,764 169.57,764 169.95,764 170.32,764 170.69,764 171.06,764 171.44,764 171.81,764 172.18,764 172.56,764 172.93,764 173.3,764 173.67,764 174.05,764 174.42,764 174.79,764 175.16,764 175.54,764 175.91,764 176.28,764 176.65,764 177.03,764 177.4,764 177.77,764 178.14,764 178.52,764 178.89,764 179.26,764 179.64,764 180.01,764 180.38,764 180.75,764 181.13,764 181.5,764 181.87,764 182.24,764 182.62,764 182.99,764 183.36,764 183.73,764 184.11,764 184.48,764 184.85,764 185.22,764 185.6,764 185.97,764 186.34,764 186.72,764 187.09,764 187.46,764 187.83,764 188.21,764 188.58,764 188.95,764 189.32,764 189.7,764 190.07,764 190.44,764 190.81,764 191.19,764 191.56,764 191.93,764 192.31,764 192.68,764 193.05,764 193.42,764 193.8,764 194.17,764 194.54,764 194.91,764 195.29,764 195.66,764 196.03,764 196.4,764 196.78,764 197.15,764 197.52,764 197.89,764 198.27,764 198.64,764 199.01,764 199.39,764 199.76,764 200.13,764 200.5,764 200.88,764 201.25,764 201.62,764 201.99,764 202.37,764 202.74,764 203.11,764 203.48,764 203.86,764 204.23,764 204.6,764 204.97,764 205.35,764 205.72,764 206.09,764 206.47,764 206.84,764 207.21,764 207.58,764 207.96,764 208.33,764 208.7,764 209.07,764 209.45,764 209.82,764 210.19,764 210.56,764 210.94,764 211.31,764 211.68,764 212.06,764 212.43,764 212.8,764 213.17,764 213.55,764 213.92,764 214.29,764 214.66,764 215.04,764 215.41,764 215.78,764 216.15,764 216.53,764 216.9,764 217.27,764 217.64,764 218.02,764 218.39,764 218.76,764 219.14,764 219.51,764 219.88,764 220.25,764 220.63,764 221,764 221.37,764 221.74,764 222.12,764 222.49,764 222.86,764 223.23,764 223.61,764 223.98,764 224.35,764 224.73,764 225.1,764 225.47,763.99 225.84,763.99 226.22,763.99 226.59,763.99 226.96,763.99 227.33,763.99 227.71,763.99 228.08,763.99 228.45,763.99 228.82,763.99 229.2,763.99 229.57,763.99 229.94,763.99 230.31,763.99 230.69,763.99 231.06,763.99 231.43,763.99 231.81,763.99 232.18,763.99 232.55,763.99 232.92,763.99 233.3,763.99 233.67,763.99 234.04,763.99 234.41,763.99 234.79,763.99 235.16,763.99 235.53,763.99 235.9,763.99 236.28,763.99 236.65,763.99 237.02,763.99 237.39,763.99 237.77,763.99 238.14,763.99 238.51,763.99 238.89,763.99 239.26,763.99 239.63,763.98 240,763.98 240.38,763.98 240.75,763.98 241.12,763.98 241.49,763.98 241.87,763.98 242.24,763.98 242.61,763.98 242.98,763.98 243.36,763.98 243.73,763.98 244.1,763.98 244.48,763.98 244.85,763.98 245.22,763.98 245.59,763.97 245.97,763.97 246.34,763.97 246.71,763.97 247.08,763.97 247.46,763.97 247.83,763.97 248.2,763.97 248.57,763.97 248.95,763.97 249.32,763.96 249.69,763.96 250.06,763.96 250.44,763.96 250.81,763.96 251.18,763.96 251.56,763.96 251.93,763.96 252.3,763.95 252.67,763.95 253.05,763.95 253.42,763.95 253.79,763.95 254.16,763.95 254.54,763.94 254.91,763.94 255.28,763.94 255.65,763.94 256.03,763.94 256.4,763.93 256.77,763.93 257.14,763.93 257.52,763.93 257.89,763.92 258.26,763.92 258.64,763.92 259.01,763.91 259.38,763.91 259.75,763.91 260.13,763.9 260.5,763.9 260.87,763.9 261.24,763.89 261.62,763.89 261.99,763.89 262.36,763.88 262.73,763.88 263.11,763.87 263.48,763.87 263.85,763.86 264.23,763.86 264.6,763.85 264.97,763.85 265.34,763.84 265.72,763.84 266.09,763.83 266.46,763.82 266.83,763.82 267.21,763.81 267.58,763.8 267.95,763.8 268.32,763.79 268.7,763.78 269.07,763.77 269.44,763.76 269.81,763.75 270.19,763.75 270.56,763.74 270.93,763.73 271.31,763.71 271.68,763.7 272.05,763.69 272.42,763.68 272.8,763.67 273.17,763.66 273.54,763.64 273.91,763.63 274.29,763.61 274.66,763.6 275.03,763.58 275.4,763.57 275.78,763.55 276.15,763.53 276.52,763.52 276.9,763.5 277.27,763.48 277.64,763.46 278.01,763.44 278.39,763.41 278.76,763.39 279.13,763.37 279.5,763.34 279.88,763.32 280.25,763.29 280.62,763.26 280.99,763.23 281.37,763.2 281.74,763.17 282.11,763.14 282.48,763.11 282.86,763.07 283.23,763.03 283.6,763 283.98,762.96 284.35,762.92 284.72,762.87 285.09,762.83 285.47,762.78 285.84,762.74 286.21,762.69 286.58,762.63 286.96,762.58 287.33,762.52 287.7,762.47 288.07,762.41 288.45,762.34 288.82,762.28 289.19,762.21 289.56,762.14 289.94,762.07 290.31,761.99 290.68,761.92 291.06,761.83 291.43,761.75 291.8,761.66 292.17,761.57 292.55,761.48 292.92,761.38 293.29,761.28 293.66,761.17 294.04,761.06 294.41,760.95 294.78,760.83 295.15,760.71 295.53,760.58 295.9,760.45 296.27,760.32 296.65,760.18 297.02,760.03 297.39,759.88 297.76,759.72 298.14,759.56 298.51,759.39 298.88,759.22 299.25,759.04 299.63,758.86 300,758.66 300.37,758.47 300.74,758.26 301.12,758.05 301.49,757.83 301.86,757.6 302.23,757.37 302.61,757.12 302.98,756.87 303.35,756.62 303.73,756.35 304.1,756.07 304.47,755.79 304.84,755.5 305.22,755.2 305.59,754.89 305.96,754.56 306.33,754.23 306.71,753.89 307.08,753.54 307.45,753.18 307.82,752.81 308.2,752.43 308.57,752.04 308.94,751.64 309.31,751.22 309.69,750.8 310.06,750.36 310.43,749.91 310.81,749.45 311.18,748.98 311.55,748.5 311.92,748 312.3,747.5 312.67,746.98 313.04,746.45 313.41,745.9 313.79,745.35 314.16,744.78 314.53,744.2 314.9,743.61 315.28,743.01 315.65,742.4 316.02,741.77 316.4,741.13 316.77,740.49 317.14,739.83 317.51,739.16 317.89,738.48 318.26,737.79 318.63,737.09 319,736.38 319.38,735.66 319.75,734.93 320.12,734.2 320.49,733.46 320.87,732.71 321.24,731.95 321.61,731.19 321.98,730.42 322.36,729.65 322.73,728.88 323.1,728.1 323.48,727.32 323.85,726.54 324.22,725.76 324.59,724.99 324.97,724.21 325.34,723.43 325.71,722.67 326.08,721.9 326.46,721.14 326.83,720.39 327.2,719.65 327.57,718.92 327.95,718.2 328.32,717.49 328.69,716.8 329.06,716.12 329.44,715.46 329.81,714.82 330.18,714.2 330.56,713.59 330.93,713.01 331.3,712.46 331.67,711.93 332.05,711.42 332.42,710.95 332.79,710.5 333.16,710.08 333.54,709.7 333.91,709.35 334.28,709.03 334.65,708.75 335.03,708.5 335.4,708.3 335.77,708.13 336.15,708 336.52,707.92 336.89,707.87 337.26,707.87 337.64,707.92 338.01,708.01 338.38,708.15 338.75,708.35 339.13,708.59 339.5,708.88 339.87,709.23 340.24,709.63 340.62,710.07 340.99,710.57 341.36,711.13 341.73,711.73 342.11,712.39 342.48,713.1 342.85,713.86 343.23,714.67 343.6,715.54 343.97,716.46 344.34,717.42 344.72,718.44 345.09,719.51 345.46,720.62 345.83,721.78 346.21,722.99 346.58,724.25 346.95,725.55 347.32,726.89 347.7,728.28 348.07,729.7 348.44,731.17 348.82,732.67 349.19,734.21 349.56,735.78 349.93,737.38 350.31,739.02 350.68,740.68 351.05,742.37 351.42,744.08 351.8,745.81 352.17,747.56 352.54,749.32 352.91,751.1 353.29,752.88 353.66,754.68 354.03,756.47 354.4,758.27 354.78,760.07 355.15,761.85 355.52,763.64 355.9,765.4 356.27,767.16 356.64,768.89 357.01,770.6 357.39,772.28 357.76,773.93 358.13,775.55 358.5,777.14 358.88,778.68 359.25,780.17 359.62,781.62 359.99,783.01 360.37,784.35 360.74,785.63 361.11,786.85 361.48,788 361.86,789.08 362.23,790.09 362.6,791.02 362.98,791.87 363.35,792.64 363.72,793.32 364.09,793.92 364.47,794.42 364.84,794.83 365.21,795.14 365.58,795.36 365.96,795.47 366.33,795.49 366.7,795.42 367.07,795.27 367.45,795.03 367.82,794.72 368.19,794.32 368.57,793.84 368.94,793.28 369.31,792.64 369.68,791.91 370.06,791.11 370.43,790.23 370.8,789.27 371.17,788.24 371.55,787.14 371.92,785.97 372.29,784.74 372.66,783.45 373.04,782.09 373.41,780.69 373.78,779.23 374.15,777.73 374.53,776.19 374.9,774.62 375.27,773.02 375.65,771.39 376.02,769.75 376.39,768.1 376.76,766.45 377.14,764.8 377.51,763.16 377.88,761.53 378.25,759.93 378.63,758.37 379,756.83 379.37,755.35 379.74,753.92 380.12,752.54 380.49,751.24 380.86,750 381.24,748.85 381.61,747.79 381.98,746.81 382.35,745.94 382.73,745.17 383.1,744.51 383.47,743.96 383.84,743.54 384.22,743.23 384.59,743.05 384.96,743 385.33,743.06 385.71,743.22 386.08,743.47 386.45,743.81 386.82,744.25 387.2,744.79 387.57,745.41 387.94,746.13 388.32,746.94 388.69,747.83 389.06,748.8 389.43,749.84 389.81,750.96 390.18,752.14 390.55,753.38 390.92,754.67 391.3,756.01 391.67,757.38 392.04,758.78 392.41,760.2 392.79,761.63 393.16,763.06 393.53,764.49 393.9,765.89 394.28,767.27 394.65,768.61 395.02,769.91 395.4,771.15 395.77,772.32 396.14,773.42 396.51,774.43 396.89,775.35 397.26,776.17 397.63,776.87 398,777.47 398.38,777.94 398.75,778.28 399.12,778.49 399.49,778.57 399.87,778.5 400.24,778.27 400.61,777.88 400.99,777.34 401.36,776.65 401.73,775.8 402.1,774.82 402.48,773.71 402.85,772.48 403.22,771.15 403.59,769.72 403.97,768.22 404.34,766.66 404.71,765.06 405.08,763.43 405.46,761.81 405.83,760.21 406.2,758.64 406.57,757.14 406.95,755.72 407.32,754.4 407.69,753.21 408.07,752.15 408.44,751.24 408.81,750.51 409.18,749.96 409.56,749.6 409.93,749.44 410.3,749.48 410.67,749.71 411.05,750.13 411.42,750.73 411.79,751.5 412.16,752.45 412.54,753.55 412.91,754.79 413.28,756.16 413.65,757.63 414.03,759.18 414.4,760.8 414.77,762.45 415.15,764.11 415.52,765.75 415.89,767.35 416.26,768.87 416.64,770.3 417.01,771.59 417.38,772.74 417.75,773.72 418.13,774.51 418.5,775.09 418.87,775.44 419.24,775.57 419.62,775.48 419.99,775.2 420.36,774.72 420.74,774.06 421.11,773.21 421.48,772.2 421.85,771.04 422.23,769.74 422.6,768.32 422.97,766.8 423.34,765.22 423.72,763.59 424.09,761.95 424.46,760.32 424.83,758.73 425.21,757.21 425.58,755.8 425.95,754.51 426.32,753.37 426.7,752.42 427.07,751.66 427.44,751.11 427.82,750.8 428.19,750.72 428.56,750.95 428.93,751.52 429.31,752.42 429.68,753.63 430.05,755.14 430.42,756.91 430.8,758.91 431.17,761.1 431.54,763.43 431.91,765.84 432.29,768.29 432.66,770.71 433.03,773.06 433.41,775.27 433.78,777.28 434.15,779.05 434.52,780.52 434.9,781.66 435.27,782.43 435.64,782.82 436.01,782.82 436.39,782.59 436.76,782.14 437.13,781.47 437.5,780.6 437.88,779.52 438.25,778.24 438.62,776.79 438.99,775.17 439.37,773.4 439.74,771.5 440.11,769.5 440.49,767.41 440.86,765.27 441.23,763.09 441.6,760.92 441.98,758.77 442.35,756.68 442.72,754.67 443.09,752.78 443.47,751.03 443.84,749.45 444.21,748.06 444.58,746.89 444.96,745.95 445.33,745.27 445.7,744.86 446.07,744.72 446.45,745.22 446.82,746.71 447.19,749.13 447.57,752.42 447.94,756.46 448.31,761.1 448.68,766.17 449.06,771.48 449.43,776.81 449.8,781.95 450.17,786.7 450.55,790.84 450.92,794.2 451.29,796.62 451.66,797.99 452.04,798.21 452.41,796.87 452.78,793.87 453.16,789.35 453.53,783.51 453.9,776.64 454.27,769.08 454.65,761.23 455.02,753.5 455.39,746.31 455.76,740.06 456.14,735.12 456.51,731.77 456.88,730.24 457.25,730.38 457.63,731.53 458,733.61 458.37,736.58 458.74,740.36 459.12,744.84 459.49,749.92 459.86,755.42 460.24,761.19 460.61,767.05 460.98,772.82 461.35,778.31 461.73,783.32 462.1,787.7 462.47,791.29 462.84,793.96 463.22,795.6 463.59,796.14 463.96,795.31 464.33,792.94 464.71,789.1 465.08,783.98 465.45,777.82 465.82,770.92 466.2,763.62 466.57,756.31 466.94,749.37 467.32,743.18 467.69,738.08 468.06,734.38 468.43,732.29 468.81,731.94 469.18,733.22 469.55,736.02 469.92,740.24 470.3,745.66 470.67,752.04 471.04,759.05 471.41,766.34 471.79,773.51 472.16,780.18 472.53,785.98 472.91,790.59 473.28,793.72 473.65,795.18 474.02,794.87 474.4,792.76 474.77,788.98 475.14,783.76 475.51,777.44 475.89,770.45 476.26,763.27 476.63,756.41 477,750.38 477.38,745.63 477.75,742.51 478.12,741.3 478.49,741.75 478.87,743.33 479.24,745.98 479.61,749.58 479.99,753.96 480.36,758.91 480.73,764.19 481.1,769.51 481.48,774.6 481.85,779.18 482.22,783 482.59,785.85 482.97,787.54 483.34,787.97 483.71,786.5 484.08,782.94 484.46,777.62 484.83,771.02 485.2,763.79 485.58,756.66 485.95,750.36 486.32,745.54 486.69,742.73 487.07,742.22 487.44,743.4 487.81,745.99 488.18,749.84 488.56,754.69 488.93,760.22 489.3,766.05 489.67,771.75 490.05,776.92 490.42,781.17 490.79,784.18 491.16,785.7 491.54,785.51 491.91,783.26 492.28,779.1 492.66,773.4 493.03,766.73 493.4,759.75 493.77,753.17 494.15,747.69 494.52,743.89 494.89,742.21 495.26,742.76 495.64,745.34 496.01,749.69 496.38,755.41 496.75,761.93 497.13,768.58 497.5,774.68 497.87,779.56 498.24,782.69 498.62,783.71 498.99,782.69 499.36,779.87 499.74,775.52 500.11,770.05 500.48,763.98 500.85,757.93 501.23,752.51 501.6,748.31 501.97,745.77 502.34,745.2 502.72,746.7 503.09,750.15 503.46,755.16 503.83,761.18 504.21,767.48 504.58,773.32 504.95,777.96 505.33,780.83 505.7,781.53 506.07,780.02 506.44,776.49 506.82,771.38 507.19,765.31 507.56,759.06 507.93,753.47 508.31,749.29 508.68,747.1 509.05,747.33 509.42,750.47 509.8,756 510.17,762.89 510.54,769.77 510.91,775.27 511.29,778.25 511.66,778.29 512.03,776.4 512.41,772.95 512.78,768.36 513.15,763.2 513.52,758.15 513.9,753.89 514.27,750.99 514.64,749.87 515.01,750.93 515.39,754.3 515.76,759.38 516.13,765.2 516.5,770.65 516.88,774.65 517.25,776.39 517.62,775.79 517.99,773.47 518.37,769.78 518.74,765.28 519.11,760.7 519.49,756.77 519.86,754.15 520.23,753.29 520.6,754.47 520.98,757.56 521.35,761.92 521.72,766.61 522.09,770.6 522.47,773 522.84,773.24 523.21,771.12 523.58,767.17 523.96,762.45 524.33,758.26 524.7,755.78 525.08,755.65 525.45,757.47 525.82,760.75 526.19,764.76 526.57,768.59 526.94,771.35 527.31,772.38 527.68,771.42 528.06,768.71 528.43,764.87 528.8,760.82 529.17,757.57 529.55,755.92 529.92,756.32 530.29,758.64 530.66,762.32 531.04,766.42 531.41,769.89 531.78,771.79 532.16,771.61 532.53,769.41 532.9,765.75 533.27,761.62 533.65,758.16 534.02,756.34 534.39,756.69 534.76,759.1 535.14,762.9 535.51,767.01 535.88,770.23 536.25,771.59 536.63,770.68 537,767.78 537.37,763.75 537.75,759.8 538.12,757.17 538.49,756.69 538.86,758.51 539.24,762.07 539.61,766.23 539.98,769.66 540.35,771.21 540.73,770.37 541.1,767.41 541.47,763.32 541.84,759.47 542.22,757.2 542.59,757.31 542.96,759.75 543.33,763.68 543.71,767.71 544.08,770.39 544.45,770.71 544.83,768.58 545.2,764.77 545.57,760.68 545.94,757.86 546.32,757.42 546.69,759.5 547.06,763.32 547.43,767.39 547.81,770.1 548.18,770.34 548.55,768.03 548.92,764.09 549.3,760.13 549.67,757.81 550.04,758.1 550.41,760.88 550.79,764.98 551.16,768.64 551.53,770.24 551.91,769.14 552.28,765.87 552.65,761.89 553.02,759 553.4,758.52 553.77,760.45 554.14,763.86 554.51,767.15 554.89,768.75 555.26,768 555.63,765.48 556,762.39 556.38,760.27 556.75,760.15 557.12,761.86 557.5,764.52 557.87,766.76 558.24,767.43 558.61,766.33 558.99,764.13 559.36,761.99 559.73,761.07 560.1,761.75 560.48,763.56 560.85,765.49 561.22,766.47 561.59,766.02 561.97,764.52 562.34,762.82 562.71,761.91 563.08,762.26 563.46,763.55 563.83,765.03 564.2,765.79 564.58,765.43 564.95,764.28 565.32,763.03 565.69,762.47 566.07,762.89 566.44,763.94 566.81,764.97 567.18,765.29 567.56,764.79 567.93,763.82 568.3,763.04 568.67,762.96 569.05,763.55 569.42,764.4 569.79,764.92 570.16,764.77 570.54,764.12 570.91,763.44 571.28,763.21 571.66,763.54 572.03,764.17 572.4,764.63 572.77,764.59 573.15,764.14 573.52,763.62 573.89,763.42 574.26,763.67 574.64,764.14 575.01,764.47 575.38,764.4 575.75,764.04 576.13,763.67 576.5,763.6 576.87,763.84 577.25,764.19 577.62,764.35 577.99,764.21 578.36,763.91 578.74,763.71 579.11,763.77 579.48,764.02 579.85,764.23 580.23,764.22 580.6,764.03 580.97,763.83 581.34,763.8 581.72,763.95 582.09,764.13 582.46,764.18 582.83,764.06 583.21,763.9 583.58,763.85 583.95,763.94 584.33,764.09 584.7,764.13 585.07,764.05 585.44,763.93 585.82,763.89 586.19,763.96 586.56,764.07 586.93,764.09 587.31,764.02 587.68,763.94 588.05,763.93 588.42,763.99 588.8,764.06 589.17,764.06 589.54,763.99 589.91,763.94 590.29,763.96 590.66,764.02 591.03,764.05 591.41,764.02 591.78,763.97 592.15,763.96 592.52,763.99 592.9,764.03 593.27,764.03 593.64,763.99 594.01,763.97 594.39,763.98 594.76,764.02 595.13,764.03 595.5,764 595.88,763.98 596.25,763.98 596.62,764.01 597,764.02 597.37,764 597.74,763.99 598.11,763.99 598.49,764.01 598.86,764.01 599.23,764 599.6,763.99 599.98,763.99 600.35,764 600.72,764.01 601.09,764 601.47,763.99 601.84,764 602.21,764 602.58,764.01 602.96,764 603.33,763.99 603.7,764 604.08,764 604.45,764 604.82,764 605.19,764 605.57,764 605.94,764 606.31,764 606.68,764 607.06,764 607.43,764 607.8,764 608.17,764 608.55,764 608.92,764 609.29,764 609.67,764 610.04,764 610.41,764 610.78,764 611.16,764 611.53,764 611.9,764 612.27,764 612.65,764 613.02,764 613.39,764 613.76,764 614.14,764 614.51,764 614.88,764 615.25,764 615.63,764 616,764" fill="none" stroke="#e32222" stroke-width="2.6" stroke-linejoin="round"/>
<polyline points="94.3,764 94.67,764 95.05,764 95.42,764 95.79,764 96.16,764 96.54,764 96.91,764 97.28,764 97.65,764 98.03,764 98.4,764 98.77,764 99.14,764 99.52,764 99.89,764 100.26,764 100.63,764 101.01,764 101.38,764 101.75,764 102.13,764 102.5,764 102.87,764 103.24,764 103.62,764 103.99,764 104.36,764 104.73,764 105.11,764 105.48,764 105.85,764 106.22,764 106.6,764 106.97,764 107.34,764 107.72,764 108.09,764 108.46,764 108.83,764 109.21,764 109.58,764 109.95,764 110.32,764 110.7,764 111.07,764 111.44,764 111.81,764 112.19,764 112.56,764 112.93,764 113.3,764 113.68,764 114.05,764 114.42,764 114.8,764 115.17,764 115.54,764 115.91,764 116.29,764 116.66,764 117.03,764 117.4,764 117.78,764 118.15,764 118.52,764 118.89,764 119.27,764 119.64,764 120.01,764 120.39,764 120.76,764 121.13,764 121.5,764 121.88,764 122.25,764 122.62,764 122.99,764 123.37,764 123.74,764 124.11,764 124.48,764 124.86,764 125.23,764 125.6,764 125.97,764 126.35,764 126.72,764 127.09,764 127.47,764 127.84,764 128.21,764 128.58,764 128.96,764 129.33,764 129.7,764 130.07,764 130.45,764 130.82,764 131.19,764 131.56,764 131.94,764 132.31,764 132.68,764 133.05,764 133.43,764 133.8,764 134.17,764 134.55,764 134.92,764 135.29,764 135.66,764 136.04,764 136.41,764 136.78,764 137.15,764 137.53,764 137.9,764 138.27,764 138.64,764 139.02,764 139.39,764 139.76,764 140.14,764 140.51,764 140.88,764 141.25,764 141.63,764 142,764 142.37,764 142.74,764 143.12,764 143.49,764 143.86,764 144.23,764 144.61,764 144.98,764 145.35,764 145.72,764 146.1,764 146.47,764 146.84,764 147.22,764 147.59,764 147.96,764 148.33,764 148.71,764 149.08,764 149.45,764 149.82,764 150.2,764 150.57,764 150.94,764 151.31,764 151.69,764 152.06,764 152.43,764 152.8,764 153.18,764 153.55,764 153.92,764 154.3,764 154.67,764 155.04,764 155.41,764 155.79,764 156.16,764 156.53,764 156.9,764 157.28,764 157.65,764 158.02,764 158.39,764 158.77,764 159.14,764 159.51,764 159.89,764 160.26,764 160.63,764 161,764 161.38,764 161.75,764 162.12,764 162.49,764 162.87,764 163.24,764 163.61,764 163.98,764 164.36,764 164.73,764 165.1,764 165.47,764 165.85,764 166.22,764 166.59,764 166.97,764 167.34,764 167.71,764 168.08,764 168.46,764 168.83,764 169.2,764 169.57,764 169.95,764 170.32,764 170.69,764 171.06,764 171.44,764 171.81,764 172.18,764 172.56,764 172.93,764 173.3,764 173.67,764 174.05,764 174.42,764 174.79,764 175.16,764 175.54,764 175.91,764 176.28,764 176.65,764 177.03,764 177.4,764 177.77,764 178.14,764 178.52,764 178.89,764 179.26,764 179.64,764 180.01,764 180.38,764 180.75,764 181.13,764 181.5,764 181.87,764 182.24,764 182.62,764 182.99,764 183.36,764 183.73,764 184.11,764 184.48,764 184.85,764 185.22,764 185.6,764 185.97,764 186.34,764 186.72,764 187.09,764 187.46,764 187.83,764 188.21,764 188.58,764 188.95,764 189.32,764 189.7,764 190.07,764 190.44,764 190.81,764 191.19,764 191.56,764 191.93,764 192.31,764 192.68,764 193.05,764 193.42,764 193.8,764 194.17,764 194.54,764 194.91,764 195.29,764 195.66,764 196.03,764 196.4,764 196.78,764 197.15,764 197.52,764 197.89,764 198.27,764 198.64,764 199.01,764 199.39,764 199.76,764 200.13,764 200.5,764 200.88,764 201.25,764 201.62,764 201.99,764 202.37,764 202.74,764 203.11,764 203.48,764 203.86,764 204.23,764 204.6,764 204.97,764 205.35,764 205.72,764 206.09,764 206.47,764 206.84,764 207.21,764 207.58,764 207.96,764 208.33,764 208.7,764 209.07,764 209.45,764 209.82,764 210.19,764 210.56,764 210.94,764 211.31,764 211.68,764 212.06,764 212.43,764 212.8,764 213.17,764 213.55,764 213.92,764 214.29,764 214.66,764 215.04,764 215.41,764 215.78,764 216.15,764 216.53,764 216.9,764 217.27,764 217.64,764 218.02,764 218.39,764 218.76,764 219.14,764 219.51,764 219.88,764 220.25,764 220.63,764 221,764 221.37,764 221.74,764 222.12,764 222.49,764 222.86,763.99 223.23,763.99 223.61,763.99 223.98,763.99 224.35,763.99 224.73,763.99 225.1,763.99 225.47,763.99 225.84,763.99 226.22,763.99 226.59,763.99 226.96,763.99 227.33,763.99 227.71,763.99 228.08,763.99 228.45,763.99 228.82,763.99 229.2,763.99 229.57,763.99 229.94,763.99 230.31,763.99 230.69,763.99 231.06,763.99 231.43,763.99 231.81,763.99 232.18,763.99 232.55,763.99 232.92,763.99 233.3,763.99 233.67,763.99 234.04,763.99 234.41,763.99 234.79,763.99 235.16,763.99 235.53,763.99 235.9,763.99 236.28,763.99 236.65,763.99 237.02,763.99 237.39,763.98 237.77,763.98 238.14,763.98 238.51,763.98 238.89,763.98 239.26,763.98 239.63,763.98 240,763.98 240.38,763.98 240.75,763.98 241.12,763.98 241.49,763.98 241.87,763.98 242.24,763.98 242.61,763.98 242.98,763.98 243.36,763.98 243.73,763.97 244.1,763.97 244.48,763.97 244.85,763.97 245.22,763.97 245.59,763.97 245.97,763.97 246.34,763.97 246.71,763.97 247.08,763.97 247.46,763.96 247.83,763.96 248.2,763.96 248.57,763.96 248.95,763.96 249.32,763.96 249.69,763.96 250.06,763.96 250.44,763.95 250.81,763.95 251.18,763.95 251.56,763.95 251.93,763.95 252.3,763.95 252.67,763.94 253.05,763.94 253.42,763.94 253.79,763.94 254.16,763.94 254.54,763.93 254.91,763.93 255.28,763.93 255.65,763.93 256.03,763.92 256.4,763.92 256.77,763.92 257.14,763.92 257.52,763.91 257.89,763.91 258.26,763.91 258.64,763.9 259.01,763.9 259.38,763.9 259.75,763.89 260.13,763.89 260.5,763.89 260.87,763.88 261.24,763.88 261.62,763.87 261.99,763.87 262.36,763.86 262.73,763.86 263.11,763.85 263.48,763.85 263.85,763.84 264.23,763.84 264.6,763.83 264.97,763.82 265.34,763.82 265.72,763.81 266.09,763.8 266.46,763.8 266.83,763.79 267.21,763.78 267.58,763.77 267.95,763.76 268.32,763.75 268.7,763.75 269.07,763.74 269.44,763.73 269.81,763.72 270.19,763.71 270.56,763.69 270.93,763.68 271.31,763.67 271.68,763.66 272.05,763.64 272.42,763.63 272.8,763.62 273.17,763.6 273.54,763.59 273.91,763.57 274.29,763.55 274.66,763.54 275.03,763.52 275.4,763.5 275.78,763.48 276.15,763.46 276.52,763.44 276.9,763.42 277.27,763.4 277.64,763.37 278.01,763.35 278.39,763.32 278.76,763.3 279.13,763.27 279.5,763.24 279.88,763.21 280.25,763.18 280.62,763.15 280.99,763.11 281.37,763.08 281.74,763.04 282.11,763 282.48,762.96 282.86,762.92 283.23,762.88 283.6,762.84 283.98,762.79 284.35,762.74 284.72,762.69 285.09,762.64 285.47,762.59 285.84,762.53 286.21,762.47 286.58,762.41 286.96,762.35 287.33,762.28 287.7,762.21 288.07,762.14 288.45,762.07 288.82,761.99 289.19,761.91 289.56,761.83 289.94,761.75 290.31,761.66 290.68,761.56 291.06,761.47 291.43,761.37 291.8,761.26 292.17,761.16 292.55,761.04 292.92,760.93 293.29,760.81 293.66,760.68 294.04,760.55 294.41,760.41 294.78,760.27 295.15,760.13 295.53,759.98 295.9,759.82 296.27,759.66 296.65,759.49 297.02,759.31 297.39,759.13 297.76,758.94 298.14,758.74 298.51,758.54 298.88,758.33 299.25,758.11 299.63,757.88 300,757.65 300.37,757.41 300.74,757.16 301.12,756.89 301.49,756.62 301.86,756.35 302.23,756.06 302.61,755.76 302.98,755.45 303.35,755.13 303.73,754.79 304.1,754.45 304.47,754.1 304.84,753.73 305.22,753.35 305.59,752.96 305.96,752.56 306.33,752.14 306.71,751.71 307.08,751.27 307.45,750.81 307.82,750.34 308.2,749.85 308.57,749.35 308.94,748.83 309.31,748.29 309.69,747.74 310.06,747.18 310.43,746.6 310.81,746 311.18,745.38 311.55,744.75 311.92,744.1 312.3,743.43 312.67,742.74 313.04,742.03 313.41,741.31 313.79,740.57 314.16,739.81 314.53,739.03 314.9,738.23 315.28,737.41 315.65,736.57 316.02,735.71 316.4,734.84 316.77,733.94 317.14,733.03 317.51,732.09 317.89,731.14 318.26,730.17 318.63,729.18 319,728.17 319.38,727.14 319.75,726.1 320.12,725.04 320.49,723.96 320.87,722.87 321.24,721.75 321.61,720.63 321.98,719.49 322.36,718.33 322.73,717.17 323.1,715.99 323.48,714.79 323.85,713.59 324.22,712.38 324.59,711.16 324.97,709.93 325.34,708.7 325.71,707.46 326.08,706.22 326.46,704.98 326.83,703.73 327.2,702.49 327.57,701.25 327.95,700.01 328.32,698.78 328.69,697.56 329.06,696.35 329.44,695.15 329.81,693.96 330.18,692.79 330.56,691.63 330.93,690.5 331.3,689.38 331.67,688.29 332.05,687.23 332.42,686.2 332.79,685.19 333.16,684.22 333.54,683.29 333.91,682.39 334.28,681.53 334.65,680.72 335.03,679.95 335.4,679.22 335.77,678.55 336.15,677.92 336.52,677.35 336.89,676.83 337.26,676.37 337.64,675.97 338.01,675.62 338.38,675.34 338.75,675.13 339.13,674.98 339.5,674.89 339.87,674.87 340.24,674.93 340.62,675.07 340.99,675.29 341.36,675.59 341.73,675.98 342.11,676.45 342.48,677 342.85,677.64 343.23,678.37 343.6,679.18 343.97,680.07 344.34,681.06 344.72,682.13 345.09,683.29 345.46,684.53 345.83,685.86 346.21,687.28 346.58,688.78 346.95,690.36 347.32,692.04 347.7,693.79 348.07,695.62 348.44,697.54 348.82,699.54 349.19,701.61 349.56,703.76 349.93,705.99 350.31,708.28 350.68,710.65 351.05,713.09 351.42,715.59 351.8,718.15 352.17,720.78 352.54,723.46 352.91,726.19 353.29,728.98 353.66,731.81 354.03,734.69 354.4,737.61 354.78,740.56 355.15,743.54 355.52,746.56 355.9,749.59 356.27,752.65 356.64,755.71 357.01,758.79 357.39,761.87 357.76,764.95 358.13,768.02 358.5,771.08 358.88,774.12 359.25,777.14 359.62,780.13 359.99,783.09 360.37,786.01 360.74,788.88 361.11,791.69 361.48,794.45 361.86,797.15 362.23,799.78 362.6,802.33 362.98,804.79 363.35,807.17 363.72,809.46 364.09,811.64 364.47,813.72 364.84,815.69 365.21,817.54 365.58,819.26 365.96,820.86 366.33,822.32 366.7,823.65 367.07,824.83 367.45,825.86 367.82,826.74 368.19,827.46 368.57,828.02 368.94,828.42 369.31,828.64 369.68,828.7 370.06,828.6 370.43,828.36 370.8,827.97 371.17,827.43 371.55,826.75 371.92,825.91 372.29,824.92 372.66,823.79 373.04,822.5 373.41,821.07 373.78,819.49 374.15,817.77 374.53,815.9 374.9,813.9 375.27,811.76 375.65,809.49 376.02,807.1 376.39,804.58 376.76,801.94 377.14,799.19 377.51,796.34 377.88,793.39 378.25,790.35 378.63,787.23 379,784.03 379.37,780.77 379.74,777.45 380.12,774.08 380.49,770.67 380.86,767.24 381.24,763.79 381.61,760.33 381.98,756.88 382.35,753.44 382.73,750.03 383.1,746.66 383.47,743.35 383.84,740.1 384.22,736.92 384.59,733.83 384.96,730.85 385.33,727.97 385.71,725.22 386.08,722.61 386.45,720.15 386.82,717.84 387.2,715.71 387.57,713.75 387.94,711.99 388.32,710.43 388.69,709.08 389.06,707.94 389.43,707.03 389.81,706.36 390.18,705.92 390.55,705.73 390.92,705.81 391.3,706.21 391.67,706.93 392.04,707.99 392.41,709.37 392.79,711.07 393.16,713.09 393.53,715.42 393.9,718.04 394.28,720.95 394.65,724.14 395.02,727.58 395.4,731.25 395.77,735.15 396.14,739.23 396.51,743.48 396.89,747.88 397.26,752.38 397.63,756.97 398,761.61 398.38,766.28 398.75,770.93 399.12,775.53 399.49,780.05 399.87,784.45 400.24,788.71 400.61,792.78 400.99,796.63 401.36,800.23 401.73,803.54 402.1,806.54 402.48,809.21 402.85,811.5 403.22,813.4 403.59,814.89 403.97,815.94 404.34,816.55 404.71,816.7 405.08,816.45 405.46,815.82 405.83,814.83 406.2,813.46 406.57,811.72 406.95,809.61 407.32,807.16 407.69,804.36 408.07,801.24 408.44,797.8 408.81,794.08 409.18,790.09 409.56,785.87 409.93,781.43 410.3,776.81 410.67,772.04 411.05,767.16 411.42,762.19 411.79,757.19 412.16,752.19 412.54,747.22 412.91,742.34 413.28,737.57 413.65,732.97 414.03,728.57 414.4,724.41 414.77,720.53 415.15,716.97 415.52,713.76 415.89,710.95 416.26,708.55 416.64,706.59 417.01,705.11 417.38,704.12 417.75,703.63 418.13,703.68 418.5,704.36 418.87,705.67 419.24,707.62 419.62,710.18 419.99,713.34 420.36,717.06 420.74,721.32 421.11,726.05 421.48,731.22 421.85,736.76 422.23,742.61 422.6,748.69 422.97,754.94 423.34,761.26 423.72,767.57 424.09,773.8 424.46,779.86 424.83,785.65 425.21,791.1 425.58,796.13 425.95,800.65 426.32,804.59 426.7,807.9 427.07,810.5 427.44,812.36 427.82,813.43 428.19,813.7 428.56,813.29 428.93,812.29 429.31,810.7 429.68,808.54 430.05,805.83 430.42,802.61 430.8,798.92 431.17,794.8 431.54,790.32 431.91,785.54 432.29,780.54 432.66,775.39 433.03,770.18 433.41,764.98 433.78,759.9 434.15,755.01 434.52,750.4 434.9,746.16 435.27,742.37 435.64,739.09 436.01,736.4 436.39,734.34 436.76,732.98 437.13,732.34 437.5,732.42 437.88,733.17 438.25,734.57 438.62,736.58 438.99,739.19 439.37,742.33 439.74,745.92 440.11,749.91 440.49,754.18 440.86,758.63 441.23,763.16 441.6,767.66 441.98,772 442.35,776.07 442.72,779.75 443.09,782.96 443.47,785.58 443.84,787.55 444.21,788.8 444.58,789.28 444.96,789.12 445.33,788.54 445.7,787.55 446.07,786.17 446.45,784.41 446.82,782.31 447.19,779.9 447.57,777.23 447.94,774.35 448.31,771.31 448.68,768.18 449.06,765.02 449.43,761.91 449.8,758.9 450.17,756.07 450.55,753.48 450.92,751.2 451.29,749.28 451.66,747.76 452.04,746.7 452.41,746.11 452.78,746.03 453.16,746.45 453.53,747.35 453.9,748.71 454.27,750.51 454.65,752.69 455.02,755.19 455.39,757.94 455.76,760.86 456.14,763.85 456.51,766.81 456.88,769.66 457.25,772.29 457.63,774.62 458,776.56 458.37,778.04 458.74,779.01 459.12,779.41 459.49,779.27 459.86,778.61 460.24,777.46 460.61,775.87 460.98,773.87 461.35,771.55 461.73,768.99 462.1,766.28 462.47,763.54 462.84,760.88 463.22,758.4 463.59,756.2 463.96,754.4 464.33,753.05 464.71,752.24 465.08,752 465.45,752.23 465.82,752.82 466.2,753.78 466.57,755.08 466.94,756.68 467.32,758.53 467.69,760.6 468.06,762.8 468.43,765.08 468.81,767.37 469.18,769.58 469.55,771.66 469.92,773.52 470.3,775.1 470.67,776.34 471.04,777.21 471.41,777.65 471.79,777.56 472.16,776.33 472.53,773.95 472.91,770.65 473.28,766.75 473.65,762.63 474.02,758.72 474.4,755.44 474.77,753.13 475.14,752.06 475.51,752.15 475.89,752.83 476.26,754.04 476.63,755.74 477,757.84 477.38,760.24 477.75,762.82 478.12,765.46 478.49,768.01 478.87,770.33 479.24,772.31 479.61,773.82 479.99,774.79 480.36,775.14 480.73,774.82 481.1,773.82 481.48,772.24 481.85,770.23 482.22,768.01 482.59,765.8 482.97,763.85 483.34,762.38 483.71,761.56 484.08,761.5 484.46,762.2 484.83,763.49 485.2,765 485.58,766.28 485.95,766.95 486.32,766.72 486.69,765.33 487.07,763.08 487.44,760.52 487.81,758.28 488.18,756.94 488.56,756.79 488.93,757.58 489.3,759.1 489.67,761.15 490.05,763.42 490.42,765.55 490.79,767.22 491.16,768.15 491.54,768.13 491.91,766.77 492.28,764.18 492.66,760.79 493.03,757.12 493.4,753.81 493.77,751.4 494.15,750.32 494.52,750.72 494.89,752.47 495.26,755.4 495.64,759.25 496.01,763.64 496.38,768.13 496.75,772.26 497.13,775.59 497.5,777.78 497.87,778.57 498.24,777.61 498.62,774.77 498.99,770.45 499.36,765.31 499.74,760.14 500.11,755.76 500.48,752.89 500.85,752.01 501.23,753.14 501.6,756.01 501.97,760.21 502.34,765.07 502.72,769.81 503.09,773.65 503.46,775.96 503.83,776.34 504.21,774.96 504.58,772.11 504.95,768.2 505.33,763.85 505.7,759.75 506.07,756.55 506.44,754.8 506.82,754.76 507.19,756.24 507.56,758.99 507.93,762.59 508.31,766.5 508.68,770.1 509.05,772.81 509.42,774.18 509.8,774.1 510.17,773.09 510.54,771.29 510.91,768.85 511.29,766.02 511.66,763.08 512.03,760.33 512.41,758.06 512.78,756.52 513.15,755.87 513.52,756.33 513.9,758.08 514.27,760.85 514.64,764.24 515.01,767.7 515.39,770.69 515.76,772.72 516.13,773.43 516.5,772.74 516.88,770.8 517.25,767.89 517.62,764.45 517.99,761.03 518.37,758.17 518.74,756.35 519.11,755.89 519.49,757.36 519.86,760.64 520.23,764.86 520.6,768.85 520.98,771.51 521.35,772.06 521.72,770.35 522.09,766.83 522.47,762.45 522.84,758.42 523.21,755.89 523.58,755.62 523.96,757.85 524.33,762.04 524.7,767.04 525.08,771.44 525.45,773.98 525.82,773.9 526.19,771.24 526.57,766.69 526.94,761.49 527.31,757.09 527.68,754.75 528.06,755.08 528.43,757.74 528.8,762 529.17,766.73 529.55,770.63 529.92,772.59 530.29,772.1 530.66,769.38 531.04,765.2 531.41,760.73 531.78,757.29 532.16,755.9 532.53,756.93 532.9,760.01 533.27,764.23 533.65,768.31 534.02,770.99 534.39,771.42 534.76,769.56 535.14,765.99 535.51,761.86 535.88,758.48 536.25,756.99 536.63,757.83 537,760.66 537.37,764.55 537.75,768.18 538.12,770.31 538.49,770.2 538.86,767.98 539.24,764.42 539.61,760.77 539.98,758.36 540.35,758.06 540.73,759.9 541.1,763.19 541.47,766.72 541.84,769.16 542.22,769.56 542.59,767.86 542.96,764.73 543.33,761.37 543.71,759.12 544.08,758.88 544.45,760.67 544.83,763.75 545.2,766.87 545.57,768.74 545.94,768.57 546.32,766.52 546.69,763.45 547.06,760.68 547.43,759.42 547.81,760.18 548.18,762.53 548.55,765.44 548.92,767.6 549.3,768.02 549.67,766.69 550.04,764.28 550.41,761.9 550.79,760.69 551.16,761.13 551.53,762.83 551.91,764.95 552.28,766.46 552.65,766.62 553.02,765.54 553.4,763.8 553.77,762.28 554.14,761.78 554.51,762.42 554.89,763.79 555.26,765.17 555.63,765.81 556,765.45 556.38,764.38 556.75,763.19 557.12,762.54 557.5,762.75 557.87,763.6 558.24,764.6 558.61,765.18 558.99,765.03 559.36,764.33 559.73,763.5 560.1,763.03 560.48,763.18 560.85,763.78 561.22,764.46 561.59,764.8 561.97,764.62 562.34,764.09 562.71,763.55 563.08,763.34 563.46,763.56 563.83,764.03 564.2,764.44 564.58,764.52 564.95,764.26 565.32,763.86 565.69,763.58 566.07,763.62 566.44,763.9 566.81,764.22 567.18,764.36 567.56,764.23 567.93,763.96 568.3,763.74 568.67,763.73 569.05,763.91 569.42,764.14 569.79,764.24 570.16,764.15 570.54,763.97 570.91,763.82 571.28,763.83 571.66,763.96 572.03,764.11 572.4,764.16 572.77,764.08 573.15,763.94 573.52,763.87 573.89,763.91 574.26,764.02 574.64,764.1 575.01,764.09 575.38,764.01 575.75,763.93 576.13,763.92 576.5,763.98 576.87,764.05 577.25,764.07 577.62,764.03 577.99,763.97 578.36,763.94 578.74,763.97 579.11,764.03 579.48,764.05 579.85,764.02 580.23,763.98 580.6,763.96 580.97,763.98 581.34,764.02 581.72,764.03 582.09,764.01 582.46,763.99 582.83,763.97 583.21,763.99 583.58,764.01 583.95,764.02 584.33,764.01 584.7,763.99 585.07,763.98 585.44,764 585.82,764.01 586.19,764.01 586.56,764 586.93,763.99 587.31,763.99 587.68,764 588.05,764.01 588.42,764 588.8,763.99 589.17,763.99 589.54,764 589.91,764.01 590.29,764 590.66,764 591.03,764 591.41,764 591.78,764 592.15,764 592.52,764 592.9,764 593.27,764 593.64,764 594.01,764 594.39,764 594.76,764 595.13,764 595.5,764 595.88,764 596.25,764 596.62,764 597,764 597.37,764 597.74,764 598.11,764 598.49,764 598.86,764 599.23,764 599.6,764 599.98,764 600.35,764 600.72,764 601.09,764 601.47,764 601.84,764 602.21,764 602.58,764 602.96,764 603.33,764 603.7,764 604.08,764 604.45,764 604.82,764 605.19,764 605.57,764 605.94,764 606.31,764 606.68,764 607.06,764 607.43,764 607.8,764 608.17,764 608.55,764 608.92,764 609.29,764 609.67,764 610.04,764 610.41,764 610.78,764 611.16,764 611.53,764 611.9,764 612.27,764 612.65,764 613.02,764 613.39,764 613.76,764 614.14,764 614.51,764 614.88,764 615.25,764 615.63,764 616,764" fill="none" stroke="#4aaa48" stroke-width="2.6" stroke-linejoin="round"/>
<polyline points="94.3,763.95 95.17,763.95 96.04,763.95 96.91,763.95 97.78,763.95 98.65,763.95 99.52,763.95 100.39,763.95 101.26,763.95 102.13,763.95 103,763.95 103.86,763.95 104.73,763.95 105.6,763.95 106.47,763.95 107.34,763.95 108.21,763.95 109.08,763.95 109.95,763.95 110.82,763.95 111.69,763.95 112.56,763.94 113.43,763.94 114.3,763.94 115.17,763.94 116.04,763.94 116.91,763.94 117.78,763.94 118.65,763.94 119.52,763.94 120.39,763.94 121.25,763.94 122.12,763.94 122.99,763.94 123.86,763.94 124.73,763.94 125.6,763.93 126.47,763.93 127.34,763.93 128.21,763.93 129.08,763.93 129.95,763.93 130.82,763.93 131.69,763.93 132.56,763.93 133.43,763.93 134.3,763.93 135.17,763.92 136.04,763.92 136.91,763.92 137.78,763.92 138.64,763.92 139.51,763.92 140.38,763.92 141.25,763.92 142.12,763.92 142.99,763.91 143.86,763.91 144.73,763.91 145.6,763.91 146.47,763.91 147.34,763.91 148.21,763.91 149.08,763.9 149.95,763.9 150.82,763.9 151.69,763.9 152.56,763.9 153.43,763.9 154.3,763.89 155.16,763.89 156.03,763.89 156.9,763.89 157.77,763.89 158.64,763.88 159.51,763.88 160.38,763.88 161.25,763.88 162.12,763.88 162.99,763.87 163.86,763.87 164.73,763.87 165.6,763.87 166.47,763.86 167.34,763.86 168.21,763.86 169.08,763.85 169.95,763.85 170.82,763.85 171.69,763.84 172.56,763.84 173.42,763.84 174.29,763.83 175.16,763.83 176.03,763.83 176.9,763.82 177.77,763.82 178.64,763.81 179.51,763.81 180.38,763.81 181.25,763.8 182.12,763.8 182.99,763.79 183.86,763.79 184.73,763.78 185.6,763.78 186.47,763.77 187.34,763.77 188.21,763.76 189.08,763.75 189.94,763.75 190.81,763.74 191.68,763.73 192.55,763.73 193.42,763.72 194.29,763.71 195.16,763.7 196.03,763.7 196.9,763.69 197.77,763.68 198.64,763.67 199.51,763.66 200.38,763.65 201.25,763.64 202.12,763.63 202.99,763.62 203.86,763.61 204.73,763.6 205.6,763.58 206.47,763.57 207.34,763.56 208.2,763.54 209.07,763.53 209.94,763.51 210.81,763.5 211.68,763.48 212.55,763.47 213.42,763.45 214.29,763.43 215.16,763.41 216.03,763.39 216.9,763.37 217.77,763.35 218.64,763.33 219.51,763.3 220.38,763.28 221.25,763.25 222.12,763.23 222.99,763.2 223.86,763.17 224.73,763.14 225.59,763.11 226.46,763.08 227.33,763.04 228.2,763.01 229.07,762.97 229.94,762.93 230.81,762.89 231.68,762.85 232.55,762.8 233.42,762.76 234.29,762.71 235.16,762.66 236.03,762.61 236.9,762.55 237.77,762.49 238.64,762.43 239.51,762.37 240.38,762.3 241.25,762.23 242.12,762.16 242.98,762.08 243.85,762 244.72,761.92 245.59,761.83 246.46,761.74 247.33,761.64 248.2,761.54 249.07,761.44 249.94,761.32 250.81,761.21 251.68,761.09 252.55,760.96 253.42,760.82 254.29,760.68 255.16,760.54 256.03,760.38 256.9,760.22 257.77,760.05 258.64,759.88 259.5,759.69 260.37,759.49 261.24,759.29 262.11,759.08 262.98,758.85 263.85,758.62 264.72,758.37 265.59,758.11 266.46,757.84 267.33,757.56 268.2,757.26 269.07,756.95 269.94,756.63 270.81,756.29 271.68,755.93 272.55,755.56 273.42,755.17 274.29,754.77 275.16,754.34 276.03,753.9 276.9,753.44 277.76,752.95 278.63,752.45 279.5,751.93 280.37,751.38 281.24,750.81 282.11,750.22 282.98,749.6 283.85,748.96 284.72,748.29 285.59,747.6 286.46,746.89 287.33,746.14 288.2,745.37 289.07,744.58 289.94,743.75 290.81,742.9 291.68,742.03 292.55,741.13 293.42,740.2 294.28,739.24 295.15,738.26 296.02,737.26 296.89,736.23 297.76,735.19 298.63,734.12 299.5,733.03 300.37,731.92 301.24,730.8 302.11,729.67 302.98,728.53 303.85,727.38 304.72,726.23 305.59,725.07 306.46,723.92 307.33,722.78 308.2,721.65 309.07,720.53 309.94,719.44 310.81,718.37 311.68,717.33 312.54,716.33 313.41,715.38 314.28,714.47 315.15,713.62 316.02,712.84 316.89,712.12 317.76,711.47 318.63,710.9 319.5,710.43 320.37,710.04 321.24,709.75 322.11,709.57 322.98,709.49 323.85,709.55 324.72,709.81 325.59,710.28 326.46,710.96 327.33,711.84 328.2,712.93 329.06,714.22 329.93,715.69 330.8,717.34 331.67,719.15 332.54,721.11 333.41,723.19 334.28,725.38 335.15,727.66 336.02,729.99 336.89,732.37 337.76,734.75 338.63,737.13 339.5,739.47 340.37,741.75 341.24,743.96 342.11,746.08 342.98,748.1 343.85,749.99 344.72,751.75 345.59,753.38 346.45,754.86 347.32,756.21 348.19,757.41 349.06,758.48 349.93,759.42 350.8,760.23 351.67,760.93 352.54,761.53 353.41,762.03 354.28,762.44 355.15,762.79 356.02,763.06 356.89,763.29 357.76,763.46 358.63,763.6 359.5,763.71 360.37,763.79 361.24,763.85 362.11,763.89 362.98,763.93 363.85,763.95 364.71,763.97 365.58,763.98 366.45,763.98 367.32,763.99 368.19,763.99 369.06,764 369.93,764 370.8,764 371.67,764 372.54,764 373.41,764 374.28,764 375.15,764 376.02,764 376.89,764 377.76,764 378.63,764 379.5,764 380.37,764 381.24,764 382.1,764 382.97,764 383.84,764 384.71,764 385.58,764 386.45,764 387.32,764 388.19,764 389.06,764 389.93,764 390.8,764 391.67,764 392.54,764 393.41,764 394.28,764 395.15,764 396.02,764 396.89,764 397.76,764 398.62,764 399.49,764 400.36,764 401.23,764 402.1,764 402.97,764 403.84,764 404.71,764 405.58,764 406.45,764 407.32,764 408.19,764 409.06,764 409.93,764 410.8,764 411.67,764 412.54,764 413.41,764 414.28,764 415.15,764 416.02,764 416.88,764 417.75,764 418.62,764 419.49,764 420.36,764 421.23,764 422.1,764 422.97,764 423.84,764 424.71,764 425.58,764 426.45,764 427.32,764 428.19,764 429.06,764 429.93,764 430.8,764 431.67,764 432.54,764 433.41,764 434.27,764 435.14,764 436.01,764 436.88,764 437.75,764 438.62,764 439.49,764 440.36,764 441.23,764 442.1,764 442.97,764 443.84,764 444.71,764 445.58,764 446.45,764 447.32,764 448.19,764 449.06,764 449.93,764 450.8,764 451.66,764 452.53,764 453.4,764 454.27,764 455.14,764 456.01,764 456.88,764 457.75,764 458.62,764 459.49,764 460.36,764 461.23,764 462.1,764 462.97,764 463.84,764 464.71,764 465.58,764 466.45,764 467.32,764 468.19,764 469.05,764 469.92,764 470.79,764 471.66,764 472.53,764 473.4,764 474.27,764 475.14,764 476.01,764 476.88,764 477.75,764 478.62,764 479.49,764 480.36,764 481.23,764 482.1,764 482.97,764 483.84,764 484.71,764 485.58,764 486.44,764 487.31,764 488.18,764 489.05,764 489.92,764 490.79,764 491.66,764 492.53,764 493.4,764 494.27,764 495.14,764 496.01,764 496.88,764 497.75,764 498.62,764 499.49,764 500.36,764 501.23,764 502.1,764 502.97,764 503.83,764 504.7,764 505.57,764 506.44,764 507.31,764 508.18,764 509.05,764 509.92,764 510.79,764 511.66,764 512.53,764 513.4,764 514.27,764 515.14,764 516.01,764 516.88,764 517.75,764 518.62,764 519.49,764 520.36,764 521.22,764 522.09,764 522.96,764 523.83,764 524.7,764 525.57,764 526.44,764 527.31,764 528.18,764 529.05,764 529.92,764 530.79,764 531.66,764 532.53,764 533.4,764 534.27,764 535.14,764 536.01,764 536.88,764 537.75,764 538.61,764 539.48,764 540.35,764 541.22,764 542.09,764 542.96,764 543.83,764 544.7,764 545.57,764 546.44,764 547.31,764 548.18,764 549.05,764 549.92,764 550.79,764 551.66,764 552.53,764 553.4,764 554.27,764 555.13,764 556,764 556.87,764 557.74,764 558.61,764 559.48,764 560.35,764 561.22,764 562.09,764 562.96,764 563.83,764 564.7,764 565.57,764 566.44,764 567.31,764 568.18,764 569.05,764 569.92,764 570.79,764 571.66,764 572.52,764 573.39,764 574.26,764 575.13,764 576,764 576.87,764 577.74,764 578.61,764 579.48,764 580.35,764 581.22,764 582.09,764 582.96,764 583.83,764 584.7,764 585.57,764 586.44,764 587.31,764 588.18,764 589.05,764 589.91,764 590.78,764 591.65,764 592.52,764 593.39,764 594.26,764 595.13,764 596,764 596.87,764 597.74,764 598.61,764 599.48,764 600.35,764 601.22,764 602.09,764 602.96,764 603.83,764 604.7,764 605.57,764 606.44,764 607.3,764 608.17,764 609.04,764 609.91,764 610.78,764 611.65,764 612.52,764 613.39,764 614.26,764 615.13,764 616,764" fill="none" stroke="#555" stroke-width="2.2" stroke-dasharray="3.5 3.5"/>
</g>
<rect x="94.3" y="657.4" width="522.7" height="214" fill="none" stroke="#000" stroke-width="2"/>
<line x1="146.65" y1="871.4" x2="146.65" y2="868.6" stroke="#000" stroke-width="1.6"/>
<line x1="146.65" y1="657.4" x2="146.65" y2="660.2" stroke="#000" stroke-width="1.6"/>
<line x1="177.27" y1="871.4" x2="177.27" y2="868.6" stroke="#000" stroke-width="1.6"/>
<line x1="177.27" y1="657.4" x2="177.27" y2="660.2" stroke="#000" stroke-width="1.6"/>
<line x1="199" y1="871.4" x2="199" y2="868.6" stroke="#000" stroke-width="1.6"/>
<line x1="199" y1="657.4" x2="199" y2="660.2" stroke="#000" stroke-width="1.6"/>
<line x1="215.85" y1="871.4" x2="215.85" y2="868.6" stroke="#000" stroke-width="1.6"/>
<line x1="215.85" y1="657.4" x2="215.85" y2="660.2" stroke="#000" stroke-width="1.6"/>
<line x1="229.62" y1="871.4" x2="229.62" y2="868.6" stroke="#000" stroke-width="1.6"/>
<line x1="229.62" y1="657.4" x2="229.62" y2="660.2" stroke="#000" stroke-width="1.6"/>
<line x1="241.26" y1="871.4" x2="241.26" y2="868.6" stroke="#000" stroke-width="1.6"/>
<line x1="241.26" y1="657.4" x2="241.26" y2="660.2" stroke="#000" stroke-width="1.6"/>
<line x1="251.35" y1="871.4" x2="251.35" y2="868.6" stroke="#000" stroke-width="1.6"/>
<line x1="251.35" y1="657.4" x2="251.35" y2="660.2" stroke="#000" stroke-width="1.6"/>
<line x1="260.24" y1="871.4" x2="260.24" y2="868.6" stroke="#000" stroke-width="1.6"/>
<line x1="260.24" y1="657.4" x2="260.24" y2="660.2" stroke="#000" stroke-width="1.6"/>
<line x1="268.2" y1="871.4" x2="268.2" y2="866.4" stroke="#000" stroke-width="1.6"/>
<line x1="268.2" y1="657.4" x2="268.2" y2="662.4" stroke="#000" stroke-width="1.6"/>
<line x1="320.55" y1="871.4" x2="320.55" y2="868.6" stroke="#000" stroke-width="1.6"/>
<line x1="320.55" y1="657.4" x2="320.55" y2="660.2" stroke="#000" stroke-width="1.6"/>
<line x1="351.17" y1="871.4" x2="351.17" y2="868.6" stroke="#000" stroke-width="1.6"/>
<line x1="351.17" y1="657.4" x2="351.17" y2="660.2" stroke="#000" stroke-width="1.6"/>
<line x1="372.9" y1="871.4" x2="372.9" y2="868.6" stroke="#000" stroke-width="1.6"/>
<line x1="372.9" y1="657.4" x2="372.9" y2="660.2" stroke="#000" stroke-width="1.6"/>
<line x1="389.75" y1="871.4" x2="389.75" y2="868.6" stroke="#000" stroke-width="1.6"/>
<line x1="389.75" y1="657.4" x2="389.75" y2="660.2" stroke="#000" stroke-width="1.6"/>
<line x1="403.52" y1="871.4" x2="403.52" y2="868.6" stroke="#000" stroke-width="1.6"/>
<line x1="403.52" y1="657.4" x2="403.52" y2="660.2" stroke="#000" stroke-width="1.6"/>
<line x1="415.16" y1="871.4" x2="415.16" y2="868.6" stroke="#000" stroke-width="1.6"/>
<line x1="415.16" y1="657.4" x2="415.16" y2="660.2" stroke="#000" stroke-width="1.6"/>
<line x1="425.25" y1="871.4" x2="425.25" y2="868.6" stroke="#000" stroke-width="1.6"/>
<line x1="425.25" y1="657.4" x2="425.25" y2="660.2" stroke="#000" stroke-width="1.6"/>
<line x1="434.14" y1="871.4" x2="434.14" y2="868.6" stroke="#000" stroke-width="1.6"/>
<line x1="434.14" y1="657.4" x2="434.14" y2="660.2" stroke="#000" stroke-width="1.6"/>
<line x1="442.1" y1="871.4" x2="442.1" y2="866.4" stroke="#000" stroke-width="1.6"/>
<line x1="442.1" y1="657.4" x2="442.1" y2="662.4" stroke="#000" stroke-width="1.6"/>
<line x1="494.45" y1="871.4" x2="494.45" y2="868.6" stroke="#000" stroke-width="1.6"/>
<line x1="494.45" y1="657.4" x2="494.45" y2="660.2" stroke="#000" stroke-width="1.6"/>
<line x1="525.07" y1="871.4" x2="525.07" y2="868.6" stroke="#000" stroke-width="1.6"/>
<line x1="525.07" y1="657.4" x2="525.07" y2="660.2" stroke="#000" stroke-width="1.6"/>
<line x1="546.8" y1="871.4" x2="546.8" y2="868.6" stroke="#000" stroke-width="1.6"/>
<line x1="546.8" y1="657.4" x2="546.8" y2="660.2" stroke="#000" stroke-width="1.6"/>
<line x1="563.65" y1="871.4" x2="563.65" y2="868.6" stroke="#000" stroke-width="1.6"/>
<line x1="563.65" y1="657.4" x2="563.65" y2="660.2" stroke="#000" stroke-width="1.6"/>
<line x1="577.42" y1="871.4" x2="577.42" y2="868.6" stroke="#000" stroke-width="1.6"/>
<line x1="577.42" y1="657.4" x2="577.42" y2="660.2" stroke="#000" stroke-width="1.6"/>
<line x1="589.06" y1="871.4" x2="589.06" y2="868.6" stroke="#000" stroke-width="1.6"/>
<line x1="589.06" y1="657.4" x2="589.06" y2="660.2" stroke="#000" stroke-width="1.6"/>
<line x1="599.15" y1="871.4" x2="599.15" y2="868.6" stroke="#000" stroke-width="1.6"/>
<line x1="599.15" y1="657.4" x2="599.15" y2="660.2" stroke="#000" stroke-width="1.6"/>
<line x1="608.04" y1="871.4" x2="608.04" y2="868.6" stroke="#000" stroke-width="1.6"/>
<line x1="608.04" y1="657.4" x2="608.04" y2="660.2" stroke="#000" stroke-width="1.6"/>
<line x1="88.8" y1="678.3" x2="94.3" y2="678.3" stroke="#000" stroke-width="1.8"/>
<line x1="91.3" y1="721.15" x2="94.3" y2="721.15" stroke="#000" stroke-width="1.8"/>
<line x1="88.8" y1="764" x2="94.3" y2="764" stroke="#000" stroke-width="1.8"/>
<line x1="91.3" y1="806.85" x2="94.3" y2="806.85" stroke="#000" stroke-width="1.8"/>
<line x1="88.8" y1="849.7" x2="94.3" y2="849.7" stroke="#000" stroke-width="1.8"/>
<line x1="617" y1="707.8" x2="622.5" y2="707.8" stroke="#000" stroke-width="1.8"/>
<line x1="617" y1="764" x2="622.5" y2="764" stroke="#000" stroke-width="1.8"/>
<line x1="617" y1="820.2" x2="622.5" y2="820.2" stroke="#000" stroke-width="1.8"/>
<text x="81" y="684.9" font-size="21" fill="#000" text-anchor="end">20</text>
<text x="81" y="770.6" font-size="21" fill="#000" text-anchor="end">0</text>
<text x="81" y="856.3" font-size="21" fill="#000" text-anchor="end">-20</text>
<text x="627" y="715.1" font-size="21" fill="#000">1</text>
<text x="627" y="771.3" font-size="21" fill="#000">0</text>
<text x="627" y="827.5" font-size="21" fill="#000">-1</text>
<text x="94.3" y="893.4" font-size="21" fill="#000" text-anchor="middle">0.1</text>
<text x="268.2" y="893.4" font-size="21" fill="#000" text-anchor="middle">1</text>
<text x="442.1" y="893.4" font-size="21" fill="#000" text-anchor="middle">10</text>
<text x="616" y="893.4" font-size="21" fill="#000" text-anchor="middle">100</text>
<text x="300" y="924" font-size="25.5" fill="#000">Time (ps)</text>
<text transform="translate(35.3,764) rotate(-90)" font-size="26.2" text-anchor="middle" fill="#000">Δθ (degree)</text>
<text transform="translate(680.2,764.5) rotate(-90)" font-size="26.1" text-anchor="middle" fill="#000">Intensity (1)</text>
<line x1="449.5" y1="689.4" x2="495" y2="689.4" stroke="#555" stroke-width="2.2" stroke-dasharray="3 5.6"/>
<text x="499" y="696.5" font-size="19.5" fill="#000">optical pulse</text>
<line x1="469" y1="820.3" x2="512" y2="820.3" stroke="#4aaa48" stroke-width="3"/>
<text x="517.5" y="826.2" font-size="19.5" fill="#000">a-domain</text>
<line x1="469" y1="843.9" x2="512" y2="843.9" stroke="#e32222" stroke-width="3"/>
<text x="517.5" y="850.9" font-size="19.5" fill="#000">c-domain</text>
<text x="229" y="694.7" font-size="19.5" fill="#1aa84f">a-domain</text>
<line x1="202.5" y1="685.2" x2="120" y2="685.2" stroke="#000" stroke-width="2.5" stroke-dasharray="6.5 4"/>
<polygon points="104.3,685.2 122,677 122,693.4" fill="#000"/>
<line x1="202.5" y1="685.2" x2="245" y2="726.81" stroke="#0000ff" stroke-width="2.6"/>
<polygon points="255,736.6 239.73,730.75 248.83,721.46" fill="#0000ff"/>
<line x1="202.5" y1="685.2" x2="227.16" y2="741.28" stroke="#8a2bc0" stroke-width="2.6"/>
<polygon points="232.8,754.1 221.27,742.78 232.25,737.95" fill="#8a2bc0"/>
<path d="M224.6,708.5 Q205,718 178,697" fill="none" stroke="#000" stroke-width="2.5"/>
<polygon points="168.6,687.5 181.5,692.5 174.5,700.5" fill="#000"/>
<text x="124" y="720.3" font-size="22" fill="#000" font-weight="bold">E</text>
<text x="138" y="726.5" font-size="15" fill="#000">BPV</text>
<text x="120.5" y="807.3" font-size="19.5" fill="#ff1a1a">c-domain</text>
<line x1="183.7" y1="842" x2="268" y2="842" stroke="#000" stroke-width="2.5" stroke-dasharray="6.5 4"/>
<polygon points="283.7,842 266.3,834.1 266.3,850.7" fill="#000"/>
<line x1="183.7" y1="842" x2="229.58" y2="798.36" stroke="#0000ff" stroke-width="2.6"/>
<polygon points="239,789.4 233.34,803.76 224.38,794.34" fill="#0000ff"/>
<line x1="183.7" y1="842" x2="238.89" y2="810.71" stroke="#8a2bc0" stroke-width="2.6"/>
<polygon points="250.2,804.3 240.98,816.42 235.06,805.98" fill="#8a2bc0"/>
<path d="M209.7,815.5 Q222,822 223.5,832" fill="none" stroke="#000" stroke-width="2.3"/>
<polygon points="224.1,841.6 218.5,831 229,831" fill="#000"/>
<text x="293" y="848.5" font-size="22" fill="#000" font-weight="bold">E</text>
<text x="307.5" y="854.2" font-size="15" fill="#000">BPV</text>
</svg></body></html>
